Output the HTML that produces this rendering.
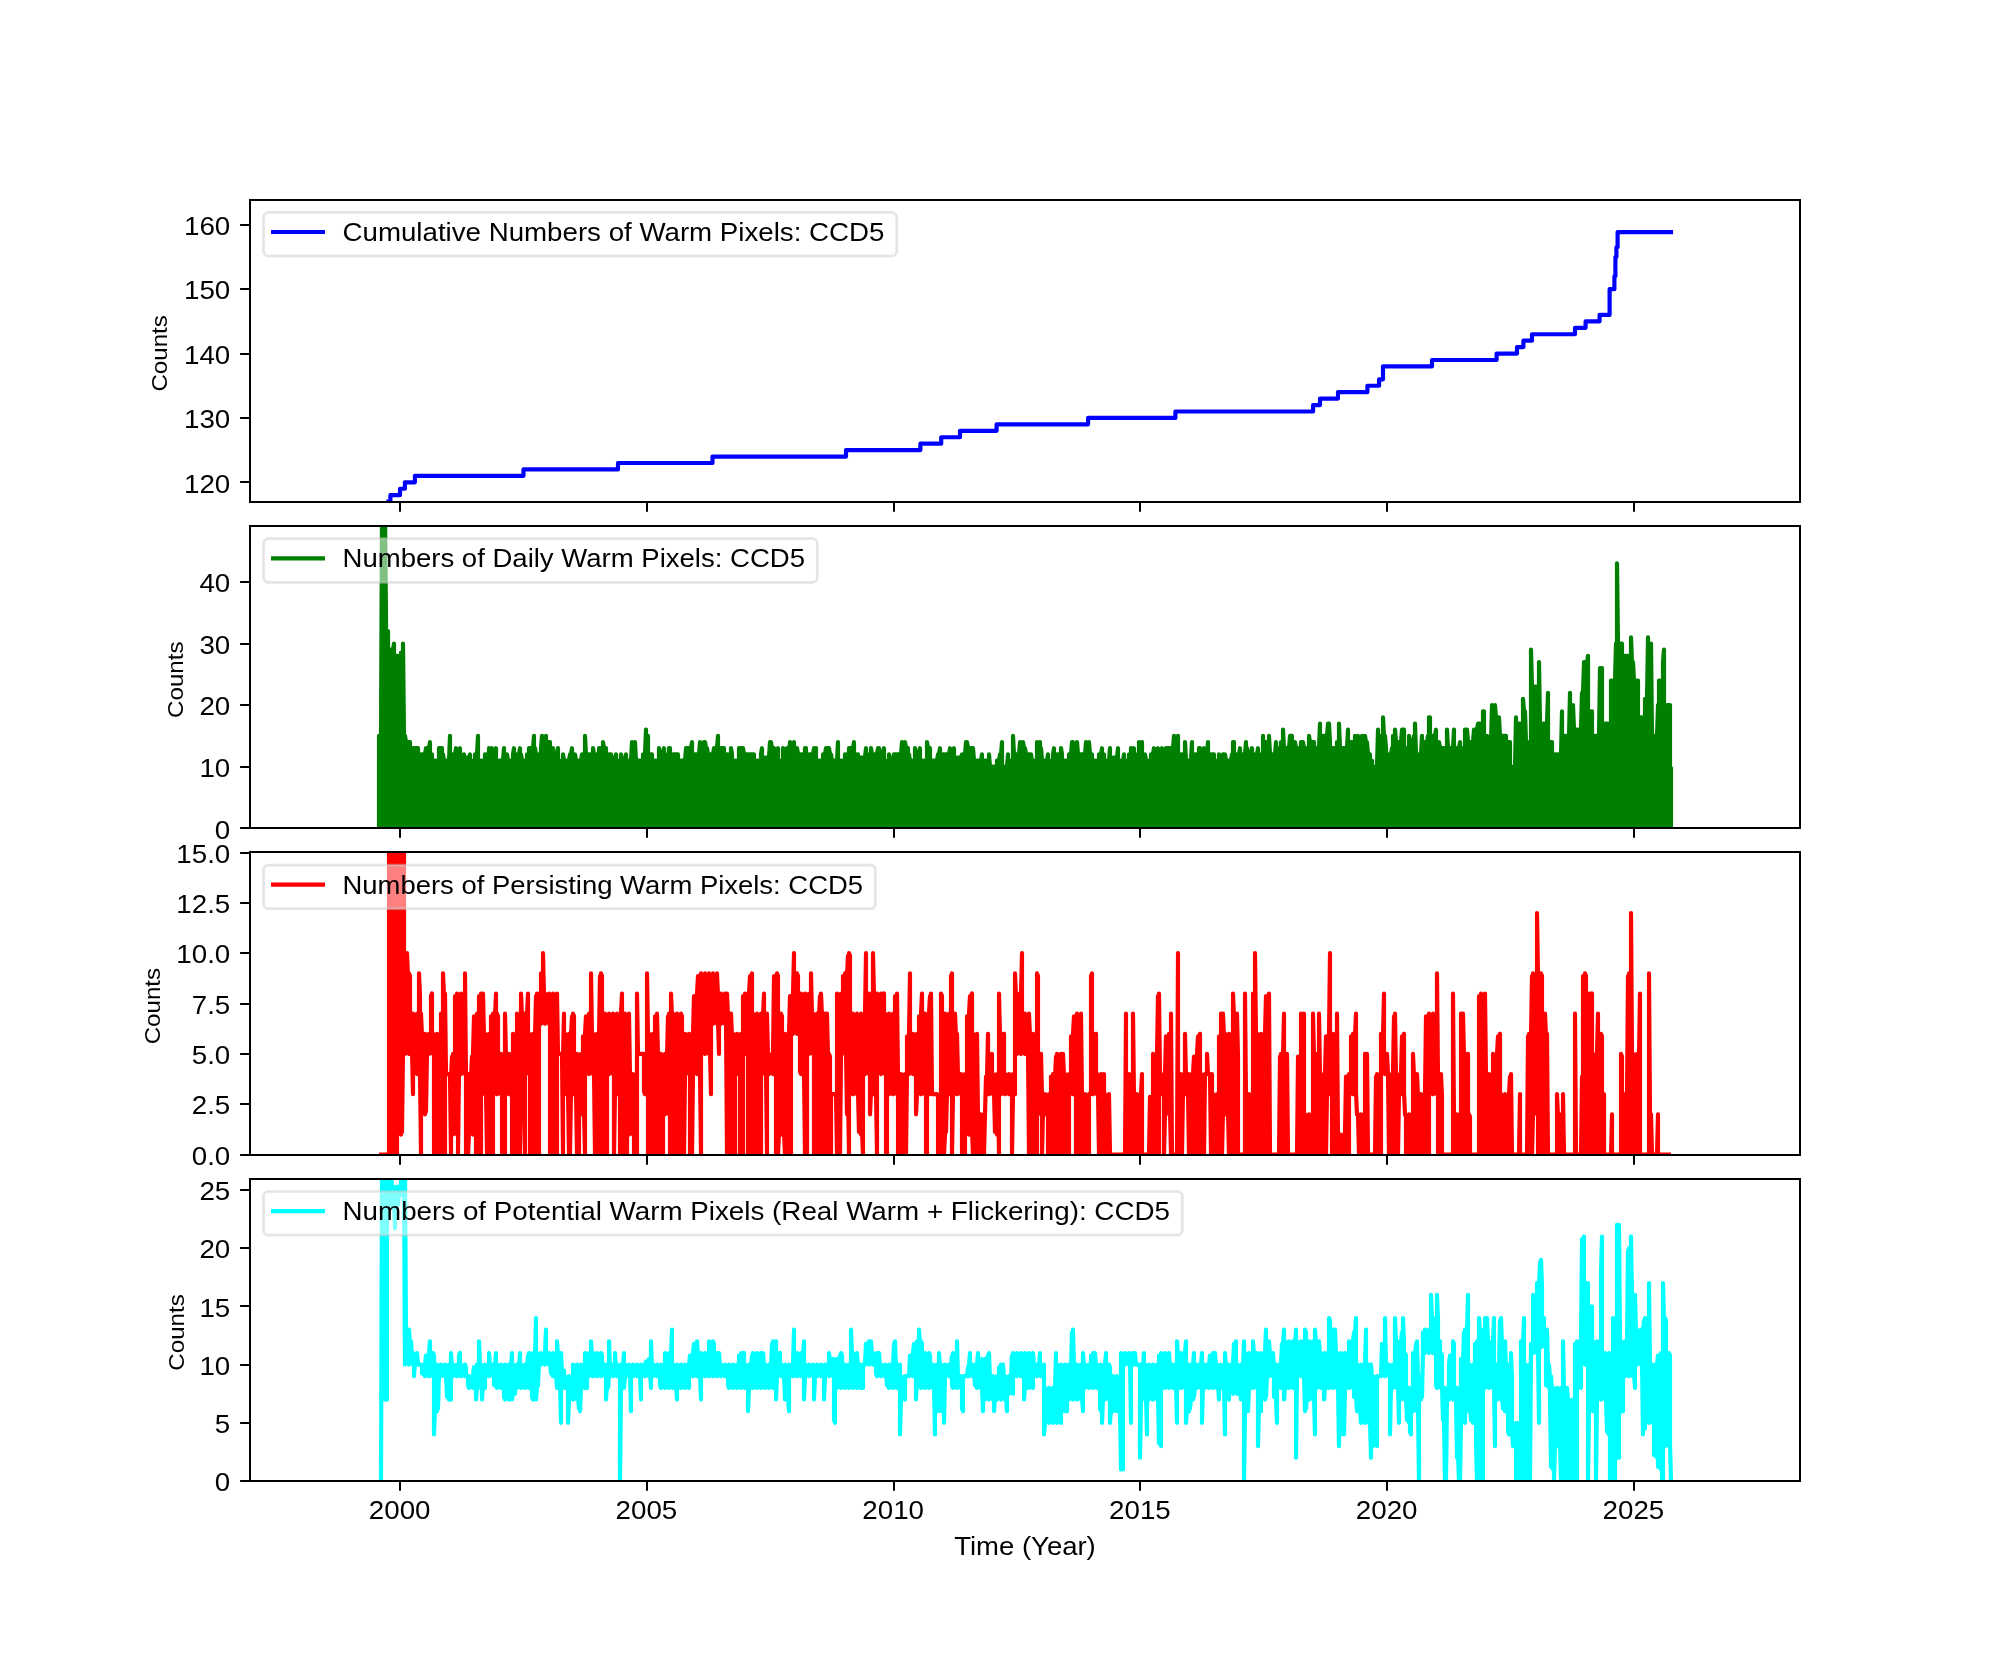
<!DOCTYPE html>
<html><head><meta charset="utf-8"><title>Warm pixels CCD5</title>
<style>
html,body{margin:0;padding:0;background:#fff}
svg{display:block;will-change:transform}
text{font-family:"Liberation Sans",sans-serif;fill:#000}
</style></head><body>
<svg width="2000" height="1664" viewBox="0 0 2000 1664">
<rect width="2000" height="1664" fill="#fff"/>
<defs>
<clipPath id="c0"><rect x="250" y="200" width="1550" height="302"/></clipPath>
<clipPath id="c1"><rect x="250" y="526" width="1550" height="302"/></clipPath>
<clipPath id="c2"><rect x="250" y="852" width="1550" height="303"/></clipPath>
<clipPath id="c3"><rect x="250" y="1179" width="1550" height="302"/></clipPath>
</defs>
<g clip-path="url(#c0)"><path d="M388.5 501.61H390.4V495.18H400.0V488.74H404.9V482.30H414.9V475.86H523.5V469.43H618.0V462.99H712.5V456.55H846.0V450.11H920.4V443.68H941.2V437.24H960.0V430.80H996.6V424.36H1088.1V417.93H1175.4V411.49H1313.1V405.05H1320.0V398.61H1338.0V392.18H1367.4V385.74H1379.1V379.30H1383.0V366.43H1432.0V359.99H1496.6V353.55H1517.0V347.11H1523.4V340.68H1532.0V334.24H1575.0V327.80H1585.6V321.36H1599.6V314.93H1609.6V289.18H1614.4V276.30H1615.4V256.99H1616.4V247.33H1617.6V232.07H1671" fill="none" stroke="#0000ff" stroke-width="4.17" stroke-linejoin="round" stroke-linecap="square"/></g>
<rect x="263.5" y="212.4" width="633.26" height="43.6" rx="5" ry="5" fill="#fff" fill-opacity="0.5" stroke="#ccc" stroke-opacity="0.5" stroke-width="2.7"/>
<path d="M271 232 H325" stroke="#0000ff" stroke-width="4.17" fill="none"/>
<text x="342.5" y="241" font-size="25.6" text-anchor="start" textLength="541.96" lengthAdjust="spacingAndGlyphs">Cumulative Numbers of Warm Pixels: CCD5</text>
<rect x="250" y="200" width="1550" height="302" fill="none" stroke="#000" stroke-width="2"/>
<text x="230.3" y="492.5" font-size="25" text-anchor="end" textLength="46.29" lengthAdjust="spacingAndGlyphs">120</text>
<text x="230.3" y="428.12" font-size="25" text-anchor="end" textLength="46.29" lengthAdjust="spacingAndGlyphs">130</text>
<text x="230.3" y="363.75" font-size="25" text-anchor="end" textLength="46.29" lengthAdjust="spacingAndGlyphs">140</text>
<text x="230.3" y="299.38" font-size="25" text-anchor="end" textLength="46.29" lengthAdjust="spacingAndGlyphs">150</text>
<text x="230.3" y="235" font-size="25" text-anchor="end" textLength="46.29" lengthAdjust="spacingAndGlyphs">160</text>
<path d="M400 502 v9.8M647 502 v9.8M894 502 v9.8M1140 502 v9.8M1387 502 v9.8M1634 502 v9.8M250 482 h-9.9M250 418 h-9.9M250 354 h-9.9M250 289 h-9.9M250 225 h-9.9" stroke="#000" stroke-width="2" fill="none"/>
<text x="166.8" y="391.6" font-size="22.43" text-anchor="start" textLength="76.45" lengthAdjust="spacingAndGlyphs" transform="rotate(-90 166.8 391.6)">Counts</text>
<g clip-path="url(#c1)"><path d="M379.0 828.3V735.9L380.0 735.9V828.3L381.0 828.3V735.9L382.0 508.0V828.3L383.0 828.3V508.0L384.0 508.0V828.3L385.0 828.3V508.0L386.0 618.9V828.3L387.0 828.3V631.2L388.0 631.2V828.3L389.0 828.3V649.7L390.0 649.7V828.3L391.0 828.3V649.7L392.0 649.7V828.3L393.0 828.3V649.7L394.0 643.5V828.3L395.0 828.3V655.8L396.0 655.8V828.3L397.0 828.3V655.8L398.0 655.8V828.3L399.0 828.3V655.8L400.0 655.8V828.3L401.0 828.3V652.7L402.0 652.7V828.3L403.0 828.3V643.5L404.0 735.9V828.3L405.0 828.3V735.9L406.0 742.1V828.3L407.0 828.3V742.1L408.0 742.1V828.3L409.0 828.3V742.1L410.0 742.1V828.3L411.0 828.3V748.2L412.0 748.2V828.3L413.0 828.3V748.2L414.0 748.2V828.3L415.0 828.3V748.2L416.0 748.2V828.3L417.0 828.3V748.2L418.0 748.2V828.3L419.0 828.3V754.4L420.0 754.4V828.3L421.0 828.3V754.4L422.0 754.4V828.3L423.0 828.3V754.4L424.0 754.4V828.3L425.0 828.3V754.4L426.0 748.2V828.3L427.0 828.3V748.2L428.0 748.2V828.3L429.0 828.3V748.2L430.0 742.1V828.3L431.0 828.3V754.4L432.0 754.4V828.3L433.0 828.3V760.5L434.0 760.5V828.3L435.0 828.3V760.5L436.0 760.5V828.3L437.0 828.3V760.5L438.0 760.5V828.3L439.0 828.3V748.2L440.0 748.2V828.3L441.0 828.3V748.2L442.0 748.2V828.3L443.0 828.3V754.4L444.0 760.5V828.3L445.0 828.3V760.5L446.0 760.5V828.3L447.0 828.3V760.5L448.0 760.5V828.3L449.0 828.3V760.5L450.0 735.9V828.3L451.0 828.3V754.4L452.0 754.4V828.3L453.0 828.3V754.4L454.0 754.4V828.3L455.0 828.3V754.4L456.0 748.2V828.3L457.0 828.3V754.4L458.0 754.4V828.3L459.0 828.3V754.4L460.0 748.2V828.3L461.0 828.3V760.5L462.0 760.5V828.3L463.0 828.3V760.5L464.0 754.4V828.3L465.0 828.3V760.5L466.0 757.5V828.3L467.0 828.3V757.5L468.0 757.5V828.3L469.0 828.3V757.5L470.0 754.4V828.3L471.0 828.3V760.5L472.0 760.5V828.3L473.0 828.3V760.5L474.0 760.5V828.3L475.0 828.3V754.4L476.0 754.4V828.3L477.0 828.3V754.4L478.0 735.9V828.3L479.0 828.3V760.5L480.0 760.5V828.3L481.0 828.3V760.5L482.0 760.5V828.3L483.0 828.3V760.5L484.0 760.5V828.3L485.0 828.3V754.4L486.0 754.4V828.3L487.0 828.3V754.4L488.0 754.4V828.3L489.0 828.3V748.2L490.0 754.4V828.3L491.0 828.3V754.4L492.0 748.2V828.3L493.0 828.3V754.4L494.0 754.4V828.3L495.0 828.3V754.4L496.0 748.2V828.3L497.0 828.3V760.5L498.0 760.5V828.3L499.0 828.3V760.5L500.0 760.5V828.3L501.0 828.3V760.5L502.0 760.5V828.3L503.0 828.3V760.5L504.0 748.2V828.3L505.0 828.3V754.4L506.0 754.4V828.3L507.0 828.3V754.4L508.0 760.5V828.3L509.0 828.3V760.5L510.0 760.5V828.3L511.0 828.3V760.5L512.0 760.5V828.3L513.0 828.3V754.4L514.0 748.2V828.3L515.0 828.3V754.4L516.0 754.4V828.3L517.0 828.3V754.4L518.0 754.4V828.3L519.0 828.3V754.4L520.0 748.2V828.3L521.0 828.3V754.4L522.0 760.5V828.3L523.0 828.3V760.5L524.0 760.5V828.3L525.0 828.3V760.5L526.0 760.5V828.3L527.0 828.3V754.4L528.0 754.4V828.3L529.0 828.3V748.2L530.0 748.2V828.3L531.0 828.3V748.2L532.0 748.2V828.3L533.0 828.3V748.2L534.0 735.9V828.3L535.0 828.3V748.2L536.0 754.4V828.3L537.0 828.3V754.4L538.0 754.4V828.3L539.0 828.3V754.4L540.0 754.4V828.3L541.0 828.3V748.2L542.0 735.9V828.3L543.0 828.3V748.2L544.0 742.1V828.3L545.0 828.3V742.1L546.0 735.9V828.3L547.0 828.3V742.1L548.0 742.1V828.3L549.0 828.3V742.1L550.0 742.1V828.3L551.0 828.3V748.2L552.0 748.2V828.3L553.0 828.3V748.2L554.0 754.4V828.3L555.0 828.3V754.4L556.0 754.4V828.3L557.0 828.3V760.5L558.0 748.2V828.3L559.0 828.3V760.5L560.0 760.5V828.3L561.0 828.3V760.5L562.0 760.5V828.3L563.0 828.3V754.4L564.0 760.5V828.3L565.0 828.3V760.5L566.0 760.5V828.3L567.0 828.3V760.5L568.0 760.5V828.3L569.0 828.3V760.5L570.0 754.4V828.3L571.0 828.3V754.4L572.0 748.2V828.3L573.0 828.3V754.4L574.0 754.4V828.3L575.0 828.3V754.4L576.0 760.5V828.3L577.0 828.3V760.5L578.0 760.5V828.3L579.0 828.3V760.5L580.0 760.5V828.3L581.0 828.3V760.5L582.0 754.4V828.3L583.0 828.3V754.4L584.0 754.4V828.3L585.0 828.3V735.9L586.0 754.4V828.3L587.0 828.3V754.4L588.0 754.4V828.3L589.0 828.3V754.4L590.0 754.4V828.3L591.0 828.3V754.4L592.0 754.4V828.3L593.0 828.3V748.2L594.0 754.4V828.3L595.0 828.3V754.4L596.0 754.4V828.3L597.0 828.3V754.4L598.0 754.4V828.3L599.0 828.3V748.2L600.0 748.2V828.3L601.0 828.3V748.2L602.0 748.2V828.3L603.0 828.3V742.1L604.0 748.2V828.3L605.0 828.3V748.2L606.0 748.2V828.3L607.0 828.3V754.4L608.0 754.4V828.3L609.0 828.3V754.4L610.0 754.4V828.3L611.0 828.3V754.4L612.0 760.5V828.3L613.0 828.3V760.5L614.0 760.5V828.3L615.0 828.3V760.5L616.0 754.4V828.3L617.0 828.3V760.5L618.0 760.5V828.3L619.0 828.3V760.5L620.0 760.5V828.3L621.0 828.3V754.4L622.0 760.5V828.3L623.0 828.3V760.5L624.0 760.5V828.3L625.0 828.3V760.5L626.0 754.4V828.3L627.0 828.3V760.5L628.0 760.5V828.3L629.0 828.3V760.5L630.0 760.5V828.3L631.0 828.3V760.5L632.0 742.1V828.3L633.0 828.3V760.5L634.0 748.2V828.3L635.0 828.3V742.1L636.0 760.5V828.3L637.0 828.3V760.5L638.0 760.5V828.3L639.0 828.3V760.5L640.0 760.5V828.3L641.0 828.3V760.5L642.0 760.5V828.3L643.0 828.3V754.4L644.0 754.4V828.3L645.0 828.3V754.4L646.0 729.7V828.3L647.0 828.3V735.9L648.0 735.9V828.3L649.0 828.3V754.4L650.0 754.4V828.3L651.0 828.3V754.4L652.0 754.4V828.3L653.0 828.3V760.5L654.0 760.5V828.3L655.0 828.3V760.5L656.0 760.5V828.3L657.0 828.3V760.5L658.0 760.5V828.3L659.0 828.3V748.2L660.0 754.4V828.3L661.0 828.3V754.4L662.0 754.4V828.3L663.0 828.3V754.4L664.0 748.2V828.3L665.0 828.3V754.4L666.0 754.4V828.3L667.0 828.3V754.4L668.0 754.4V828.3L669.0 828.3V748.2L670.0 748.2V828.3L671.0 828.3V754.4L672.0 754.4V828.3L673.0 828.3V754.4L674.0 754.4V828.3L675.0 828.3V754.4L676.0 754.4V828.3L677.0 828.3V754.4L678.0 754.4V828.3L679.0 828.3V760.5L680.0 760.5V828.3L681.0 828.3V760.5L682.0 760.5V828.3L683.0 828.3V760.5L684.0 760.5V828.3L685.0 828.3V760.5L686.0 748.2V828.3L687.0 828.3V748.2L688.0 748.2V828.3L689.0 828.3V748.2L690.0 748.2V828.3L691.0 828.3V748.2L692.0 742.1V828.3L693.0 828.3V754.4L694.0 754.4V828.3L695.0 828.3V754.4L696.0 754.4V828.3L697.0 828.3V754.4L698.0 754.4V828.3L699.0 828.3V754.4L700.0 742.1V828.3L701.0 828.3V754.4L702.0 748.2V828.3L703.0 828.3V748.2L704.0 742.1V828.3L705.0 828.3V742.1L706.0 748.2V828.3L707.0 828.3V748.2L708.0 754.4V828.3L709.0 828.3V754.4L710.0 754.4V828.3L711.0 828.3V754.4L712.0 754.4V828.3L713.0 828.3V754.4L714.0 748.2V828.3L715.0 828.3V748.2L716.0 748.2V828.3L717.0 828.3V748.2L718.0 735.9V828.3L719.0 828.3V748.2L720.0 748.2V828.3L721.0 828.3V748.2L722.0 748.2V828.3L723.0 828.3V748.2L724.0 748.2V828.3L725.0 828.3V754.4L726.0 754.4V828.3L727.0 828.3V754.4L728.0 754.4V828.3L729.0 828.3V754.4L730.0 754.4V828.3L731.0 828.3V748.2L732.0 754.4V828.3L733.0 828.3V760.5L734.0 760.5V828.3L735.0 828.3V760.5L736.0 760.5V828.3L737.0 828.3V760.5L738.0 760.5V828.3L739.0 828.3V748.2L740.0 748.2V828.3L741.0 828.3V748.2L742.0 748.2V828.3L743.0 828.3V748.2L744.0 754.4V828.3L745.0 828.3V754.4L746.0 754.4V828.3L747.0 828.3V754.4L748.0 754.4V828.3L749.0 828.3V754.4L750.0 754.4V828.3L751.0 828.3V754.4L752.0 754.4V828.3L753.0 828.3V754.4L754.0 754.4V828.3L755.0 828.3V760.5L756.0 760.5V828.3L757.0 828.3V760.5L758.0 760.5V828.3L759.0 828.3V760.5L760.0 760.5V828.3L761.0 828.3V754.4L762.0 748.2V828.3L763.0 828.3V757.5L764.0 757.5V828.3L765.0 828.3V757.5L766.0 757.5V828.3L767.0 828.3V757.5L768.0 757.5V828.3L769.0 828.3V757.5L770.0 742.1V828.3L771.0 828.3V742.1L772.0 748.2V828.3L773.0 828.3V748.2L774.0 748.2V828.3L775.0 828.3V754.4L776.0 754.4V828.3L777.0 828.3V754.4L778.0 748.2V828.3L779.0 828.3V760.5L780.0 760.5V828.3L781.0 828.3V760.5L782.0 760.5V828.3L783.0 828.3V748.2L784.0 760.5V828.3L785.0 828.3V754.4L786.0 757.5V828.3L787.0 828.3V748.2L788.0 757.5V828.3L789.0 828.3V757.5L790.0 742.1V828.3L791.0 828.3V757.5L792.0 748.2V828.3L793.0 828.3V748.2L794.0 742.1V828.3L795.0 828.3V748.2L796.0 748.2V828.3L797.0 828.3V748.2L798.0 754.4V828.3L799.0 828.3V754.4L800.0 754.4V828.3L801.0 828.3V754.4L802.0 754.4V828.3L803.0 828.3V754.4L804.0 754.4V828.3L805.0 828.3V748.2L806.0 748.2V828.3L807.0 828.3V754.4L808.0 754.4V828.3L809.0 828.3V754.4L810.0 754.4V828.3L811.0 828.3V754.4L812.0 754.4V828.3L813.0 828.3V754.4L814.0 748.2V828.3L815.0 828.3V760.5L816.0 748.2V828.3L817.0 828.3V760.5L818.0 760.5V828.3L819.0 828.3V760.5L820.0 760.5V828.3L821.0 828.3V760.5L822.0 760.5V828.3L823.0 828.3V754.4L824.0 754.4V828.3L825.0 828.3V754.4L826.0 748.2V828.3L827.0 828.3V748.2L828.0 748.2V828.3L829.0 828.3V748.2L830.0 754.4V828.3L831.0 828.3V754.4L832.0 760.5V828.3L833.0 828.3V760.5L834.0 760.5V828.3L835.0 828.3V760.5L836.0 760.5V828.3L837.0 828.3V760.5L838.0 742.1V828.3L839.0 828.3V760.5L840.0 760.5V828.3L841.0 828.3V760.5L842.0 760.5V828.3L843.0 828.3V760.5L844.0 760.5V828.3L845.0 828.3V754.4L846.0 754.4V828.3L847.0 828.3V754.4L848.0 754.4V828.3L849.0 828.3V748.2L850.0 748.2V828.3L851.0 828.3V748.2L852.0 748.2V828.3L853.0 828.3V748.2L854.0 742.1V828.3L855.0 828.3V754.4L856.0 754.4V828.3L857.0 828.3V754.4L858.0 754.4V828.3L859.0 828.3V757.5L860.0 757.5V828.3L861.0 828.3V757.5L862.0 757.5V828.3L863.0 828.3V757.5L864.0 757.5V828.3L865.0 828.3V757.5L866.0 748.2V828.3L867.0 828.3V754.4L868.0 754.4V828.3L869.0 828.3V754.4L870.0 754.4V828.3L871.0 828.3V748.2L872.0 754.4V828.3L873.0 828.3V754.4L874.0 754.4V828.3L875.0 828.3V754.4L876.0 754.4V828.3L877.0 828.3V754.4L878.0 748.2V828.3L879.0 828.3V748.2L880.0 754.4V828.3L881.0 828.3V754.4L882.0 754.4V828.3L883.0 828.3V754.4L884.0 748.2V828.3L885.0 828.3V760.5L886.0 760.5V828.3L887.0 828.3V760.5L888.0 760.5V828.3L889.0 828.3V754.4L890.0 760.5V828.3L891.0 828.3V760.5L892.0 760.5V828.3L893.0 828.3V760.5L894.0 754.4V828.3L895.0 828.3V754.4L896.0 754.4V828.3L897.0 828.3V754.4L898.0 754.4V828.3L899.0 828.3V754.4L900.0 754.4V828.3L901.0 828.3V754.4L902.0 742.1V828.3L903.0 828.3V754.4L904.0 748.2V828.3L905.0 828.3V742.1L906.0 748.2V828.3L907.0 828.3V748.2L908.0 748.2V828.3L909.0 828.3V754.4L910.0 760.5V828.3L911.0 828.3V760.5L912.0 760.5V828.3L913.0 828.3V760.5L914.0 760.5V828.3L915.0 828.3V748.2L916.0 754.4V828.3L917.0 828.3V754.4L918.0 754.4V828.3L919.0 828.3V754.4L920.0 748.2V828.3L921.0 828.3V760.5L922.0 760.5V828.3L923.0 828.3V760.5L924.0 760.5V828.3L925.0 828.3V760.5L926.0 760.5V828.3L927.0 828.3V742.1L928.0 748.2V828.3L929.0 828.3V748.2L930.0 748.2V828.3L931.0 828.3V760.5L932.0 760.5V828.3L933.0 828.3V760.5L934.0 760.5V828.3L935.0 828.3V760.5L936.0 760.5V828.3L937.0 828.3V760.5L938.0 754.4V828.3L939.0 828.3V754.4L940.0 748.2V828.3L941.0 828.3V754.4L942.0 754.4V828.3L943.0 828.3V754.4L944.0 754.4V828.3L945.0 828.3V754.4L946.0 754.4V828.3L947.0 828.3V754.4L948.0 754.4V828.3L949.0 828.3V754.4L950.0 748.2V828.3L951.0 828.3V754.4L952.0 754.4V828.3L953.0 828.3V754.4L954.0 748.2V828.3L955.0 828.3V757.5L956.0 757.5V828.3L957.0 828.3V757.5L958.0 757.5V828.3L959.0 828.3V757.5L960.0 757.5V828.3L961.0 828.3V757.5L962.0 754.4V828.3L963.0 828.3V754.4L964.0 754.4V828.3L965.0 828.3V754.4L966.0 742.1V828.3L967.0 828.3V742.1L968.0 748.2V828.3L969.0 828.3V748.2L970.0 748.2V828.3L971.0 828.3V748.2L972.0 748.2V828.3L973.0 828.3V748.2L974.0 760.5V828.3L975.0 828.3V760.5L976.0 760.5V828.3L977.0 828.3V760.5L978.0 760.5V828.3L979.0 828.3V760.5L980.0 760.5V828.3L981.0 828.3V760.5L982.0 754.4V828.3L983.0 828.3V760.5L984.0 760.5V828.3L985.0 828.3V760.5L986.0 760.5V828.3L987.0 828.3V760.5L988.0 760.5V828.3L989.0 828.3V754.4L990.0 766.7V828.3L991.0 828.3V766.7L992.0 766.7V828.3L993.0 828.3V766.7L994.0 766.7V828.3L995.0 828.3V766.7L996.0 766.7V828.3L997.0 828.3V760.5L998.0 760.5V828.3L999.0 828.3V760.5L1000.0 754.4V828.3L1001.0 828.3V754.4L1002.0 742.1V828.3L1003.0 828.3V766.7L1004.0 766.7V828.3L1005.0 828.3V766.7L1006.0 766.7V828.3L1007.0 828.3V766.7L1008.0 754.4V828.3L1009.0 828.3V766.7L1010.0 760.5V828.3L1011.0 828.3V760.5L1012.0 760.5V828.3L1013.0 828.3V735.9L1014.0 754.4V828.3L1015.0 828.3V754.4L1016.0 754.4V828.3L1017.0 828.3V754.4L1018.0 754.4V828.3L1019.0 828.3V754.4L1020.0 742.1V828.3L1021.0 828.3V754.4L1022.0 748.2V828.3L1023.0 828.3V742.1L1024.0 748.2V828.3L1025.0 828.3V748.2L1026.0 754.4V828.3L1027.0 828.3V754.4L1028.0 754.4V828.3L1029.0 828.3V754.4L1030.0 754.4V828.3L1031.0 828.3V754.4L1032.0 760.5V828.3L1033.0 828.3V760.5L1034.0 760.5V828.3L1035.0 828.3V760.5L1036.0 760.5V828.3L1037.0 828.3V742.1L1038.0 754.4V828.3L1039.0 828.3V748.2L1040.0 742.1V828.3L1041.0 828.3V748.2L1042.0 760.5V828.3L1043.0 828.3V760.5L1044.0 760.5V828.3L1045.0 828.3V760.5L1046.0 760.5V828.3L1047.0 828.3V760.5L1048.0 754.4V828.3L1049.0 828.3V760.5L1050.0 760.5V828.3L1051.0 828.3V760.5L1052.0 760.5V828.3L1053.0 828.3V754.4L1054.0 748.2V828.3L1055.0 828.3V754.4L1056.0 754.4V828.3L1057.0 828.3V754.4L1058.0 754.4V828.3L1059.0 828.3V754.4L1060.0 754.4V828.3L1061.0 828.3V748.2L1062.0 754.4V828.3L1063.0 828.3V760.5L1064.0 760.5V828.3L1065.0 828.3V760.5L1066.0 760.5V828.3L1067.0 828.3V760.5L1068.0 760.5V828.3L1069.0 828.3V754.4L1070.0 754.4V828.3L1071.0 828.3V754.4L1072.0 742.1V828.3L1073.0 828.3V742.1L1074.0 748.2V828.3L1075.0 828.3V748.2L1076.0 748.2V828.3L1077.0 828.3V742.1L1078.0 754.4V828.3L1079.0 828.3V754.4L1080.0 754.4V828.3L1081.0 828.3V754.4L1082.0 754.4V828.3L1083.0 828.3V754.4L1084.0 754.4V828.3L1085.0 828.3V754.4L1086.0 742.1V828.3L1087.0 828.3V754.4L1088.0 754.4V828.3L1089.0 828.3V742.1L1090.0 754.4V828.3L1091.0 828.3V754.4L1092.0 754.4V828.3L1093.0 828.3V760.5L1094.0 760.5V828.3L1095.0 828.3V760.5L1096.0 760.5V828.3L1097.0 828.3V760.5L1098.0 760.5V828.3L1099.0 828.3V754.4L1100.0 754.4V828.3L1101.0 828.3V754.4L1102.0 748.2V828.3L1103.0 828.3V754.4L1104.0 754.4V828.3L1105.0 828.3V760.5L1106.0 760.5V828.3L1107.0 828.3V760.5L1108.0 760.5V828.3L1109.0 828.3V760.5L1110.0 748.2V828.3L1111.0 828.3V757.5L1112.0 757.5V828.3L1113.0 828.3V757.5L1114.0 757.5V828.3L1115.0 828.3V757.5L1116.0 757.5V828.3L1117.0 828.3V757.5L1118.0 748.2V828.3L1119.0 828.3V760.5L1120.0 760.5V828.3L1121.0 828.3V760.5L1122.0 760.5V828.3L1123.0 828.3V760.5L1124.0 754.4V828.3L1125.0 828.3V760.5L1126.0 760.5V828.3L1127.0 828.3V760.5L1128.0 760.5V828.3L1129.0 828.3V754.4L1130.0 754.4V828.3L1131.0 828.3V748.2L1132.0 754.4V828.3L1133.0 828.3V754.4L1134.0 748.2V828.3L1135.0 828.3V754.4L1136.0 754.4V828.3L1137.0 828.3V754.4L1138.0 754.4V828.3L1139.0 828.3V742.1L1140.0 754.4V828.3L1141.0 828.3V754.4L1142.0 742.1V828.3L1143.0 828.3V754.4L1144.0 754.4V828.3L1145.0 828.3V754.4L1146.0 760.5V828.3L1147.0 828.3V760.5L1148.0 760.5V828.3L1149.0 828.3V760.5L1150.0 760.5V828.3L1151.0 828.3V754.4L1152.0 754.4V828.3L1153.0 828.3V754.4L1154.0 748.2V828.3L1155.0 828.3V754.4L1156.0 754.4V828.3L1157.0 828.3V754.4L1158.0 748.2V828.3L1159.0 828.3V754.4L1160.0 754.4V828.3L1161.0 828.3V754.4L1162.0 748.2V828.3L1163.0 828.3V754.4L1164.0 754.4V828.3L1165.0 828.3V754.4L1166.0 748.2V828.3L1167.0 828.3V748.2L1168.0 748.2V828.3L1169.0 828.3V748.2L1170.0 748.2V828.3L1171.0 828.3V748.2L1172.0 748.2V828.3L1173.0 828.3V748.2L1174.0 735.9V828.3L1175.0 828.3V742.1L1176.0 742.1V828.3L1177.0 828.3V754.4L1178.0 735.9V828.3L1179.0 828.3V754.4L1180.0 754.4V828.3L1181.0 828.3V754.4L1182.0 754.4V828.3L1183.0 828.3V754.4L1184.0 754.4V828.3L1185.0 828.3V742.1L1186.0 760.5V828.3L1187.0 828.3V760.5L1188.0 760.5V828.3L1189.0 828.3V760.5L1190.0 760.5V828.3L1191.0 828.3V760.5L1192.0 742.1V828.3L1193.0 828.3V754.4L1194.0 754.4V828.3L1195.0 828.3V754.4L1196.0 754.4V828.3L1197.0 828.3V754.4L1198.0 754.4V828.3L1199.0 828.3V748.2L1200.0 748.2V828.3L1201.0 828.3V754.4L1202.0 754.4V828.3L1203.0 828.3V754.4L1204.0 748.2V828.3L1205.0 828.3V754.4L1206.0 754.4V828.3L1207.0 828.3V754.4L1208.0 742.1V828.3L1209.0 828.3V754.4L1210.0 754.4V828.3L1211.0 828.3V754.4L1212.0 754.4V828.3L1213.0 828.3V754.4L1214.0 754.4V828.3L1215.0 828.3V760.5L1216.0 760.5V828.3L1217.0 828.3V760.5L1218.0 760.5V828.3L1219.0 828.3V754.4L1220.0 760.5V828.3L1221.0 828.3V760.5L1222.0 760.5V828.3L1223.0 828.3V754.4L1224.0 754.4V828.3L1225.0 828.3V754.4L1226.0 760.5V828.3L1227.0 828.3V760.5L1228.0 760.5V828.3L1229.0 828.3V760.5L1230.0 760.5V828.3L1231.0 828.3V760.5L1232.0 754.4V828.3L1233.0 828.3V742.1L1234.0 742.1V828.3L1235.0 828.3V754.4L1236.0 754.4V828.3L1237.0 828.3V754.4L1238.0 754.4V828.3L1239.0 828.3V754.4L1240.0 748.2V828.3L1241.0 828.3V754.4L1242.0 754.4V828.3L1243.0 828.3V754.4L1244.0 754.4V828.3L1245.0 828.3V754.4L1246.0 742.1V828.3L1247.0 828.3V748.2L1248.0 754.4V828.3L1249.0 828.3V754.4L1250.0 754.4V828.3L1251.0 828.3V754.4L1252.0 748.2V828.3L1253.0 828.3V754.4L1254.0 754.4V828.3L1255.0 828.3V754.4L1256.0 754.4V828.3L1257.0 828.3V754.4L1258.0 748.2V828.3L1259.0 828.3V754.4L1260.0 754.4V828.3L1261.0 828.3V754.4L1262.0 754.4V828.3L1263.0 828.3V735.9L1264.0 754.4V828.3L1265.0 828.3V742.1L1266.0 742.1V828.3L1267.0 828.3V742.1L1268.0 742.1V828.3L1269.0 828.3V735.9L1270.0 754.4V828.3L1271.0 828.3V754.4L1272.0 754.4V828.3L1273.0 828.3V754.4L1274.0 754.4V828.3L1275.0 828.3V754.4L1276.0 742.1V828.3L1277.0 828.3V754.4L1278.0 748.2V828.3L1279.0 828.3V748.2L1280.0 748.2V828.3L1281.0 828.3V742.1L1282.0 742.1V828.3L1283.0 828.3V729.7L1284.0 748.2V828.3L1285.0 828.3V748.2L1286.0 748.2V828.3L1287.0 828.3V748.2L1288.0 748.2V828.3L1289.0 828.3V748.2L1290.0 735.9V828.3L1291.0 828.3V735.9L1292.0 735.9V828.3L1293.0 828.3V742.1L1294.0 742.1V828.3L1295.0 828.3V742.1L1296.0 748.2V828.3L1297.0 828.3V748.2L1298.0 748.2V828.3L1299.0 828.3V748.2L1300.0 748.2V828.3L1301.0 828.3V742.1L1302.0 742.1V828.3L1303.0 828.3V742.1L1304.0 748.2V828.3L1305.0 828.3V748.2L1306.0 748.2V828.3L1307.0 828.3V748.2L1308.0 748.2V828.3L1309.0 828.3V735.9L1310.0 742.1V828.3L1311.0 828.3V742.1L1312.0 742.1V828.3L1313.0 828.3V742.1L1314.0 742.1V828.3L1315.0 828.3V748.2L1316.0 748.2V828.3L1317.0 828.3V748.2L1318.0 748.2V828.3L1319.0 828.3V748.2L1320.0 723.6V828.3L1321.0 828.3V735.9L1322.0 735.9V828.3L1323.0 828.3V735.9L1324.0 735.9V828.3L1325.0 828.3V735.9L1326.0 735.9V828.3L1327.0 828.3V735.9L1328.0 723.6V828.3L1329.0 828.3V723.6L1330.0 742.1V828.3L1331.0 828.3V748.2L1332.0 748.2V828.3L1333.0 828.3V748.2L1334.0 748.2V828.3L1335.0 828.3V748.2L1336.0 748.2V828.3L1337.0 828.3V742.1L1338.0 742.1V828.3L1339.0 828.3V723.6L1340.0 748.2V828.3L1341.0 828.3V748.2L1342.0 748.2V828.3L1343.0 828.3V748.2L1344.0 748.2V828.3L1345.0 828.3V748.2L1346.0 748.2V828.3L1347.0 828.3V748.2L1348.0 729.7V828.3L1349.0 828.3V742.1L1350.0 742.1V828.3L1351.0 828.3V742.1L1352.0 742.1V828.3L1353.0 828.3V742.1L1354.0 742.1V828.3L1355.0 828.3V735.9L1356.0 742.1V828.3L1357.0 828.3V742.1L1358.0 735.9V828.3L1359.0 828.3V748.2L1360.0 748.2V828.3L1361.0 828.3V748.2L1362.0 735.9V828.3L1363.0 828.3V748.2L1364.0 748.2V828.3L1365.0 828.3V735.9L1366.0 742.1V828.3L1367.0 828.3V742.1L1368.0 754.4V828.3L1369.0 828.3V754.4L1370.0 754.4V828.3L1371.0 828.3V760.5L1372.0 760.5V828.3L1373.0 828.3V766.7L1374.0 766.7V828.3L1375.0 828.3V766.7L1376.0 766.7V828.3L1377.0 828.3V766.7L1378.0 729.7V828.3L1379.0 828.3V766.7L1380.0 735.9V828.3L1381.0 828.3V735.9L1382.0 735.9V828.3L1383.0 828.3V717.4L1384.0 735.9V828.3L1385.0 828.3V735.9L1386.0 748.2V828.3L1387.0 828.3V754.4L1388.0 754.4V828.3L1389.0 828.3V754.4L1390.0 754.4V828.3L1391.0 828.3V754.4L1392.0 748.2V828.3L1393.0 828.3V735.9L1394.0 735.9V828.3L1395.0 828.3V729.7L1396.0 742.1V828.3L1397.0 828.3V742.1L1398.0 742.1V828.3L1399.0 828.3V742.1L1400.0 742.1V828.3L1401.0 828.3V742.1L1402.0 729.7V828.3L1403.0 828.3V729.7L1404.0 729.7V828.3L1405.0 828.3V748.2L1406.0 748.2V828.3L1407.0 828.3V748.2L1408.0 748.2V828.3L1409.0 828.3V735.9L1410.0 748.2V828.3L1411.0 828.3V742.1L1412.0 742.1V828.3L1413.0 828.3V742.1L1414.0 735.9V828.3L1415.0 828.3V723.6L1416.0 754.4V828.3L1417.0 828.3V754.4L1418.0 754.4V828.3L1419.0 828.3V754.4L1420.0 754.4V828.3L1421.0 828.3V754.4L1422.0 735.9V828.3L1423.0 828.3V742.1L1424.0 742.1V828.3L1425.0 828.3V742.1L1426.0 742.1V828.3L1427.0 828.3V742.1L1428.0 735.9V828.3L1429.0 828.3V717.4L1430.0 717.4V828.3L1431.0 828.3V735.9L1432.0 735.9V828.3L1433.0 828.3V735.9L1434.0 735.9V828.3L1435.0 828.3V735.9L1436.0 729.7V828.3L1437.0 828.3V742.1L1438.0 742.1V828.3L1439.0 828.3V742.1L1440.0 748.2V828.3L1441.0 828.3V748.2L1442.0 748.2V828.3L1443.0 828.3V748.2L1444.0 748.2V828.3L1445.0 828.3V748.2L1446.0 748.2V828.3L1447.0 828.3V729.7L1448.0 748.2V828.3L1449.0 828.3V748.2L1450.0 748.2V828.3L1451.0 828.3V748.2L1452.0 748.2V828.3L1453.0 828.3V748.2L1454.0 729.7V828.3L1455.0 828.3V748.2L1456.0 748.2V828.3L1457.0 828.3V748.2L1458.0 748.2V828.3L1459.0 828.3V748.2L1460.0 742.1V828.3L1461.0 828.3V748.2L1462.0 748.2V828.3L1463.0 828.3V748.2L1464.0 748.2V828.3L1465.0 828.3V729.7L1466.0 729.7V828.3L1467.0 828.3V729.7L1468.0 742.1V828.3L1469.0 828.3V742.1L1470.0 742.1V828.3L1471.0 828.3V742.1L1472.0 742.1V828.3L1473.0 828.3V742.1L1474.0 729.7V828.3L1475.0 828.3V729.7L1476.0 729.7V828.3L1477.0 828.3V729.7L1478.0 723.6V828.3L1479.0 828.3V723.6L1480.0 723.6V828.3L1481.0 828.3V723.6L1482.0 723.6V828.3L1483.0 828.3V711.3L1484.0 711.3V828.3L1485.0 828.3V735.9L1486.0 735.9V828.3L1487.0 828.3V735.9L1488.0 742.1V828.3L1489.0 828.3V742.1L1490.0 742.1V828.3L1491.0 828.3V742.1L1492.0 705.1V828.3L1493.0 828.3V711.3L1494.0 717.4V828.3L1495.0 828.3V705.1L1496.0 717.4V828.3L1497.0 828.3V717.4L1498.0 717.4V828.3L1499.0 828.3V717.4L1500.0 735.9V828.3L1501.0 828.3V735.9L1502.0 735.9V828.3L1503.0 828.3V735.9L1504.0 735.9V828.3L1505.0 828.3V735.9L1506.0 735.9V828.3L1507.0 828.3V742.1L1508.0 742.1V828.3L1509.0 828.3V742.1L1510.0 742.1V828.3L1511.0 828.3V766.7L1512.0 766.7V828.3L1513.0 828.3V766.7L1514.0 766.7V828.3L1515.0 828.3V766.7L1516.0 717.4V828.3L1517.0 828.3V723.6L1518.0 723.6V828.3L1519.0 828.3V723.6L1520.0 723.6V828.3L1521.0 828.3V723.6L1522.0 723.6V828.3L1523.0 828.3V698.9L1524.0 711.3V828.3L1525.0 828.3V711.3L1526.0 742.1V828.3L1527.0 828.3V742.1L1528.0 742.1V828.3L1529.0 828.3V742.1L1530.0 742.1V828.3L1531.0 828.3V649.7L1532.0 686.6V828.3L1533.0 828.3V686.6L1534.0 686.6V828.3L1535.0 828.3V686.6L1536.0 686.6V828.3L1537.0 828.3V686.6L1538.0 686.6V828.3L1539.0 828.3V662.0L1540.0 723.6V828.3L1541.0 828.3V723.6L1542.0 723.6V828.3L1543.0 828.3V723.6L1544.0 723.6V828.3L1545.0 828.3V723.6L1546.0 723.6V828.3L1547.0 828.3V723.6L1548.0 692.8V828.3L1549.0 828.3V742.1L1550.0 742.1V828.3L1551.0 828.3V742.1L1552.0 742.1V828.3L1553.0 828.3V754.4L1554.0 754.4V828.3L1555.0 828.3V754.4L1556.0 754.4V828.3L1557.0 828.3V754.4L1558.0 754.4V828.3L1559.0 828.3V754.4L1560.0 754.4V828.3L1561.0 828.3V754.4L1562.0 711.3V828.3L1563.0 828.3V735.9L1564.0 735.9V828.3L1565.0 828.3V735.9L1566.0 735.9V828.3L1567.0 828.3V735.9L1568.0 735.9V828.3L1569.0 828.3V735.9L1570.0 692.8V828.3L1571.0 828.3V705.1L1572.0 705.1V828.3L1573.0 828.3V705.1L1574.0 729.7V828.3L1575.0 828.3V729.7L1576.0 729.7V828.3L1577.0 828.3V729.7L1578.0 729.7V828.3L1579.0 828.3V729.7L1580.0 729.7V828.3L1581.0 828.3V729.7L1582.0 692.8V828.3L1583.0 828.3V692.8L1584.0 662.0V828.3L1585.0 828.3V662.0L1586.0 662.0V828.3L1587.0 828.3V662.0L1588.0 655.8V828.3L1589.0 828.3V711.3L1590.0 711.3V828.3L1591.0 828.3V711.3L1592.0 711.3V828.3L1593.0 828.3V735.9L1594.0 735.9V828.3L1595.0 828.3V735.9L1596.0 735.9V828.3L1597.0 828.3V735.9L1598.0 735.9V828.3L1599.0 828.3V735.9L1600.0 668.1V828.3L1601.0 828.3V668.1L1602.0 668.1V828.3L1603.0 828.3V723.6L1604.0 723.6V828.3L1605.0 828.3V723.6L1606.0 723.6V828.3L1607.0 828.3V723.6L1608.0 723.6V828.3L1609.0 828.3V723.6L1610.0 723.6V828.3L1611.0 828.3V680.5L1612.0 680.5V828.3L1613.0 828.3V680.5L1614.0 680.5V828.3L1615.0 828.3V680.5L1616.0 643.5V828.3L1617.0 828.3V563.4L1618.0 643.5V828.3L1619.0 828.3V643.5L1620.0 643.5V828.3L1621.0 828.3V643.5L1622.0 643.5V828.3L1623.0 828.3V655.8L1624.0 655.8V828.3L1625.0 828.3V655.8L1626.0 655.8V828.3L1627.0 828.3V655.8L1628.0 655.8V828.3L1629.0 828.3V655.8L1630.0 655.8V828.3L1631.0 828.3V637.3L1632.0 662.0V828.3L1633.0 828.3V662.0L1634.0 680.5V828.3L1635.0 828.3V680.5L1636.0 680.5V828.3L1637.0 828.3V680.5L1638.0 680.5V828.3L1639.0 828.3V717.4L1640.0 717.4V828.3L1641.0 828.3V717.4L1642.0 717.4V828.3L1643.0 828.3V717.4L1644.0 717.4V828.3L1645.0 828.3V698.9L1646.0 698.9V828.3L1647.0 828.3V698.9L1648.0 637.3V828.3L1649.0 828.3V643.5L1650.0 643.5V828.3L1651.0 828.3V643.5L1652.0 735.9V828.3L1653.0 828.3V735.9L1654.0 735.9V828.3L1655.0 828.3V735.9L1656.0 735.9V828.3L1657.0 828.3V735.9L1658.0 705.1V828.3L1659.0 828.3V680.5L1660.0 680.5V828.3L1661.0 828.3V680.5L1662.0 680.5V828.3L1663.0 828.3V662.0L1664.0 649.7V828.3L1665.0 828.3V705.1L1666.0 705.1V828.3L1667.0 828.3V705.1L1668.0 705.1V828.3L1669.0 828.3V705.1L1670.0 705.1V828.3L1671.0 828.3V766.7" fill="none" stroke="#008000" stroke-width="4.17" stroke-linejoin="round" stroke-linecap="butt"/></g>
<rect x="263.5" y="538.7" width="553.82" height="43.6" rx="5" ry="5" fill="#fff" fill-opacity="0.5" stroke="#ccc" stroke-opacity="0.5" stroke-width="2.7"/>
<path d="M271 558.3 H325" stroke="#008000" stroke-width="4.17" fill="none"/>
<text x="342.5" y="567.3" font-size="25.6" text-anchor="start" textLength="462.52" lengthAdjust="spacingAndGlyphs">Numbers of Daily Warm Pixels: CCD5</text>
<rect x="250" y="526" width="1550" height="302" fill="none" stroke="#000" stroke-width="2"/>
<text x="230.3" y="838.5" font-size="25" text-anchor="end" textLength="15.43" lengthAdjust="spacingAndGlyphs">0</text>
<text x="230.3" y="776.9" font-size="25" text-anchor="end" textLength="30.86" lengthAdjust="spacingAndGlyphs">10</text>
<text x="230.3" y="715.3" font-size="25" text-anchor="end" textLength="30.86" lengthAdjust="spacingAndGlyphs">20</text>
<text x="230.3" y="653.7" font-size="25" text-anchor="end" textLength="30.86" lengthAdjust="spacingAndGlyphs">30</text>
<text x="230.3" y="592.1" font-size="25" text-anchor="end" textLength="30.86" lengthAdjust="spacingAndGlyphs">40</text>
<path d="M400 828 v9.8M647 828 v9.8M894 828 v9.8M1140 828 v9.8M1387 828 v9.8M1634 828 v9.8M250 828 h-9.9M250 767 h-9.9M250 705 h-9.9M250 644 h-9.9M250 582 h-9.9" stroke="#000" stroke-width="2" fill="none"/>
<text x="183.2" y="717.9" font-size="22.43" text-anchor="start" textLength="76.45" lengthAdjust="spacingAndGlyphs" transform="rotate(-90 183.2 717.9)">Counts</text>
<g clip-path="url(#c2)"><path d="M379.0 1154.6V1154.6L380.0 1154.6L381.0 1154.6L382.0 1154.6L383.0 1154.6L384.0 1154.6L385.0 1154.6L386.0 1154.6L387.0 1154.6L388.0 1154.6L389.0 1154.6V832.4L390.0 835.0V1154.6L391.0 1154.6V835.0L392.0 835.0V1154.6L393.0 1154.6V832.4L394.0 835.0V1154.6L395.0 1154.6V835.0L396.0 835.0V1154.6L397.0 1154.6V832.4L398.0 835.0V1131.9L399.0 1131.9V835.0L400.0 835.0V1131.9L401.0 1134.5V832.4L402.0 835.0V1131.9L403.0 1051.3V835.0L404.0 832.4V1051.3L405.0 1053.9V953.2L406.0 955.8V1051.3L407.0 1051.3V953.2L408.0 976.0V1051.3L409.0 1053.9V973.4L410.0 976.0V1051.3L411.0 1051.3V1016.3L412.0 1016.3V1051.3L413.0 1094.2V1013.7L414.0 1016.3V1071.5L415.0 1071.5V1016.3L416.0 1016.3V1071.5L417.0 1074.1V1013.7L418.0 1016.3V1071.5L419.0 1071.5V973.4L420.0 996.1V1071.5L421.0 1154.6V1013.7L422.0 1036.4V1111.7L423.0 1111.7V1036.4L424.0 1036.4V1111.7L425.0 1114.3V1033.8L426.0 1036.4V1111.7L427.0 1051.3V1036.4L428.0 1036.4V1051.3L429.0 1053.9V1033.8L430.0 1036.4V1051.3L431.0 1051.3V996.1L432.0 993.5V1051.3L433.0 1053.9V1033.8L434.0 1036.4V1154.6L435.0 1154.6V1036.4L436.0 1036.4V1154.6L437.0 1154.6V1033.8L438.0 1036.4V1154.6L439.0 1154.6V1036.4L440.0 1036.4V1154.6L441.0 1154.6V1013.7L442.0 1016.3V1154.6L443.0 1154.6V973.4L444.0 996.1V1154.6L445.0 1154.6V993.5L446.0 1074.1L447.0 1074.1L448.0 1074.1L449.0 1074.1L450.0 1074.1L451.0 1154.6V1076.7L452.0 1056.5V1061.4L453.0 1134.5V1053.9L454.0 1056.5V1131.9L455.0 1131.9V996.1L456.0 996.1V1131.9L457.0 1134.5V993.5L458.0 996.1V1154.6L459.0 1071.5V996.1L460.0 996.1V1071.5L461.0 1074.1V993.5L462.0 996.1V1071.5L463.0 1071.5V996.1L464.0 996.1V1071.5L465.0 1074.1V973.4L466.0 1076.7V1154.6L467.0 1154.6V1076.7L468.0 1076.7V1154.6L469.0 1134.5V1074.1L470.0 1076.7V1131.9L471.0 1131.9V1076.7L472.0 1056.5V1131.9L473.0 1134.5V1053.9L474.0 1016.3V1131.9L475.0 1131.9V1016.3L476.0 1016.3V1154.6L477.0 1154.6V1013.7L478.0 1016.3V1154.6L479.0 1154.6V996.1L480.0 996.1V1154.6L481.0 1154.6V993.5L482.0 996.1V1091.6L483.0 1091.6V993.5L484.0 1036.4V1091.6L485.0 1094.2V1033.8L486.0 1036.4V1091.6L487.0 1154.6V1036.4L488.0 1036.4V1154.6L489.0 1154.6V1033.8L490.0 1036.4V1154.6L491.0 1154.6V1016.3L492.0 1016.3V1154.6L493.0 1154.6V1013.7L494.0 1016.3V1091.6L495.0 1091.6V1016.3L496.0 993.5V1091.6L497.0 1094.2V1013.7L498.0 1016.3V1091.6L499.0 1091.6V1056.5L500.0 1056.5V1091.6L501.0 1094.2V1053.9L502.0 1056.5V1154.6L503.0 1154.6V1056.5L504.0 1056.5V1154.6L505.0 1154.6V1013.7L506.0 1056.5V1091.6L507.0 1091.6V1056.5L508.0 1056.5V1091.6L509.0 1094.2V1053.9L510.0 1056.5V1091.6L511.0 1091.6V1056.5L512.0 1056.5V1154.6L513.0 1154.6V1033.8L514.0 1036.4V1154.6L515.0 1154.6V1036.4L516.0 1036.4V1154.6L517.0 1154.6V1013.7L518.0 1016.3V1154.6L519.0 1154.6V1016.3L520.0 1016.3V1154.6L521.0 1074.1V993.5L522.0 1016.3V1071.5L523.0 1071.5V1016.3L524.0 1016.3V1071.5L525.0 1154.6V1013.7L526.0 1016.3V1071.5L527.0 1071.5V1016.3L528.0 993.5V1071.5L529.0 1074.1V1033.8L530.0 1036.4V1154.6L531.0 1154.6V1036.4L532.0 1036.4V1154.6L533.0 1154.6V1033.8L534.0 1036.4V1154.6L535.0 1154.6V1036.4L536.0 996.1V1154.6L537.0 1154.6V993.5L538.0 996.1V1154.6L539.0 1154.6V996.1L540.0 996.1V1021.1L541.0 1023.7V973.4L542.0 976.0V1021.1L543.0 1021.1V953.2L544.0 996.1V1021.1L545.0 1023.7V993.5L546.0 996.1V1021.1L547.0 1021.1V996.1L548.0 996.1V1021.1L549.0 1023.7V993.5L550.0 996.1V1154.6L551.0 1154.6V996.1L552.0 996.1V1154.6L553.0 1154.6V993.5L554.0 996.1V1154.6L555.0 1154.6V996.1L556.0 996.1V1154.6L557.0 1154.6V993.5L558.0 1053.9L559.0 1053.9L560.0 1053.9L561.0 1053.9L562.0 1053.9L563.0 1154.6V1056.5L564.0 1013.7V1091.6L565.0 1094.2V1033.8L566.0 1036.4V1091.6L567.0 1091.6V1036.4L568.0 1036.4V1091.6L569.0 1154.6V1033.8L570.0 1036.4V1154.6L571.0 1091.6V1036.4L572.0 1016.3V1091.6L573.0 1094.2V1013.7L574.0 1016.3V1091.6L575.0 1091.6V1056.5L576.0 1056.5V1091.6L577.0 1154.6V1053.9L578.0 1056.5V1154.6L579.0 1154.6V1056.5L580.0 1056.5V1111.7L581.0 1114.3V1053.9L582.0 1056.5V1111.7L583.0 1111.7V1036.4L584.0 1036.4V1111.7L585.0 1154.6V1033.8L586.0 1016.3V1071.5L587.0 1071.5V1016.3L588.0 1016.3V1071.5L589.0 1074.1V1013.7L590.0 1016.3V1071.5L591.0 1071.5V973.4L592.0 1036.4V1071.5L593.0 1074.1V1033.8L594.0 1036.4V1071.5L595.0 1154.6V1036.4L596.0 1036.4V1154.6L597.0 1154.6V1033.8L598.0 1036.4V1154.6L599.0 1154.6V1036.4L600.0 976.0V1154.6L601.0 1154.6V973.4L602.0 976.0V1154.6L603.0 1154.6V1016.3L604.0 1016.3V1154.6L605.0 1154.6V1013.7L606.0 1016.3V1154.6L607.0 1154.6V1016.3L608.0 1016.3V1071.5L609.0 1074.1V1013.7L610.0 1016.3V1071.5L611.0 1071.5V1016.3L612.0 1016.3V1071.5L613.0 1074.1V1013.7L614.0 1016.3V1154.6L615.0 1091.6V1016.3L616.0 1016.3V1091.6L617.0 1094.2V1013.7L618.0 1016.3V1091.6L619.0 1091.6V1016.3L620.0 1016.3V1154.6L621.0 1154.6V1013.7L622.0 993.5V1154.6L623.0 1154.6V1016.3L624.0 1016.3V1154.6L625.0 1154.6V1013.7L626.0 1016.3V1154.6L627.0 1154.6V1016.3L628.0 1016.3V1131.9L629.0 1134.5V1013.7L630.0 1076.7V1131.9L631.0 1131.9V1076.7L632.0 1076.7V1131.9L633.0 1134.5V1074.1L634.0 1076.7V1154.6L635.0 1154.6V1076.7L636.0 1076.7V1154.6L637.0 1154.6V993.5L638.0 1053.9L639.0 1053.9L640.0 1053.9L641.0 1053.9L642.0 1053.9L643.0 1053.9L644.0 1056.5V1091.6L645.0 1094.2V1053.9L646.0 1056.5V1091.6L647.0 1091.6V973.4L648.0 1036.4V1154.6L649.0 1154.6V1033.8L650.0 1036.4V1154.6L651.0 1154.6V1036.4L652.0 1036.4V1154.6L653.0 1154.6V1033.8L654.0 1036.4V1154.6L655.0 1154.6V1016.3L656.0 1016.3V1154.6L657.0 1154.6V1013.7L658.0 1056.5V1154.6L659.0 1154.6V1056.5L660.0 1056.5V1154.6L661.0 1154.6V1053.9L662.0 1056.5V1154.6L663.0 1154.6V1056.5L664.0 1056.5V1111.7L665.0 1114.3V1053.9L666.0 1056.5V1111.7L667.0 1111.7V1056.5L668.0 1016.3V1111.7L669.0 1114.3V1013.7L670.0 1016.3V1154.6L671.0 1154.6V993.5L672.0 1016.3V1154.6L673.0 1154.6V1013.7L674.0 1016.3V1154.6L675.0 1154.6V1016.3L676.0 1016.3V1154.6L677.0 1154.6V1013.7L678.0 1016.3V1154.6L679.0 1154.6V1016.3L680.0 1016.3V1154.6L681.0 1154.6V1013.7L682.0 1016.3V1154.6L683.0 1154.6V1036.4L684.0 1036.4V1154.6L685.0 1074.1V1033.8L686.0 1036.4V1071.5L687.0 1071.5V1036.4L688.0 1036.4V1071.5L689.0 1074.1V1033.8L690.0 1036.4V1154.6L691.0 1154.6V1036.4L692.0 1036.4V1154.6L693.0 1074.1V1033.8L694.0 996.1V1071.5L695.0 1071.5V996.1L696.0 996.1V1071.5L697.0 1074.1V993.5L698.0 976.0V1071.5L699.0 1071.5V976.0L700.0 976.0V1071.5L701.0 1154.6V973.4L702.0 976.0V1051.3L703.0 1051.3V976.0L704.0 976.0V1051.3L705.0 1053.9V973.4L706.0 976.0V1051.3L707.0 1051.3V976.0L708.0 976.0V1051.3L709.0 1053.9V973.4L710.0 976.0V1051.3L711.0 1094.2V976.0L712.0 976.0V1021.1L713.0 1023.7V973.4L714.0 976.0V1021.1L715.0 1021.1V976.0L716.0 976.0V1021.1L717.0 1023.7V973.4L718.0 996.1V1021.1L719.0 1053.9V996.1L720.0 996.1V1021.1L721.0 1023.7V993.5L722.0 996.1V1021.1L723.0 1021.1V996.1L724.0 996.1V1021.1L725.0 1023.7V993.5L726.0 996.1V1021.1L727.0 1154.6V993.5L728.0 1016.3V1154.6L729.0 1154.6V1013.7L730.0 1016.3V1154.6L731.0 1154.6V1013.7L732.0 1036.4V1154.6L733.0 1154.6V1033.8L734.0 1036.4V1154.6L735.0 1154.6V1036.4L736.0 1036.4V1071.5L737.0 1074.1V1033.8L738.0 1036.4V1071.5L739.0 1071.5V1036.4L740.0 1036.4V1154.6L741.0 1074.1V1033.8L742.0 1036.4V1071.5L743.0 1154.6V996.1L744.0 996.1V1051.3L745.0 1053.9V993.5L746.0 996.1V1051.3L747.0 1051.3V996.1L748.0 996.1V1154.6L749.0 1154.6V993.5L750.0 976.0V1154.6L751.0 1154.6V976.0L752.0 973.4V1154.6L753.0 1154.6V1013.7L754.0 1016.3V1154.6L755.0 1154.6V1016.3L756.0 1016.3V1154.6L757.0 1154.6V1013.7L758.0 1016.3V1154.6L759.0 1154.6V1016.3L760.0 1016.3V1154.6L761.0 1154.6V1013.7L762.0 1016.3V1071.5L763.0 1071.5V1016.3L764.0 993.5V1071.5L765.0 1074.1V1013.7L766.0 1016.3V1071.5L767.0 1154.6V1013.7L768.0 1056.5V1071.5L769.0 1074.1V1053.9L770.0 1056.5V1071.5L771.0 1071.5V1056.5L772.0 1056.5V1071.5L773.0 1074.1V1053.9L774.0 976.0V1071.5L775.0 1071.5V976.0L776.0 976.0V1154.6L777.0 1154.6V973.4L778.0 976.0V1154.6L779.0 1131.9V1016.3L780.0 1016.3V1131.9L781.0 1134.5V1013.7L782.0 1016.3V1131.9L783.0 1131.9V1036.4L784.0 1036.4V1131.9L785.0 1154.6V1033.8L786.0 1036.4V1154.6L787.0 1154.6V1036.4L788.0 1036.4V1154.6L789.0 1154.6V1033.8L790.0 996.1V1154.6L791.0 1154.6V996.1L792.0 996.1V1031.2L793.0 1033.8V993.5L794.0 953.2V1031.2L795.0 1031.2V976.0L796.0 976.0V1031.2L797.0 1033.8V973.4L798.0 976.0V1031.2L799.0 1031.2V996.1L800.0 996.1V1071.5L801.0 1074.1V993.5L802.0 996.1V1071.5L803.0 1071.5V996.1L804.0 996.1V1071.5L805.0 1154.6V993.5L806.0 996.1V1154.6L807.0 1154.6V996.1L808.0 996.1V1051.3L809.0 1053.9V993.5L810.0 996.1V1051.3L811.0 1051.3V973.4L812.0 1016.3V1051.3L813.0 1053.9V1013.7L814.0 1016.3V1154.6L815.0 1154.6V1016.3L816.0 1016.3V1154.6L817.0 1154.6V1013.7L818.0 1016.3V1154.6L819.0 1154.6V1016.3L820.0 996.1V1154.6L821.0 1154.6V993.5L822.0 1016.3V1154.6L823.0 1154.6V1016.3L824.0 1016.3V1154.6L825.0 1154.6V1013.7L826.0 1016.3V1154.6L827.0 1154.6V1013.7L828.0 1056.5V1154.6L829.0 1154.6V1053.9L830.0 1056.5V1154.6L831.0 1154.6V1096.8L832.0 1094.2L833.0 1094.2L834.0 1094.2L835.0 1094.2L836.0 1094.2L837.0 1154.6V993.5L838.0 996.1V1154.6L839.0 1154.6V996.1L840.0 996.1V1154.6L841.0 1053.9V993.5L842.0 996.1V1051.3L843.0 1051.3V976.0L844.0 976.0V1051.3L845.0 1053.9V973.4L846.0 976.0V1051.3L847.0 1114.3V976.0L848.0 955.8V1091.6L849.0 1154.6V953.2L850.0 955.8V1091.6L851.0 1091.6V1016.3L852.0 1016.3V1091.6L853.0 1094.2V1013.7L854.0 1016.3V1091.6L855.0 1091.6V1016.3L856.0 1016.3V1091.6L857.0 1094.2V1013.7L858.0 1016.3V1091.6L859.0 1131.9V1016.3L860.0 1016.3V1131.9L861.0 1134.5V1013.7L862.0 1016.3V1131.9L863.0 1154.6V1016.3L864.0 1016.3V1071.5L865.0 1074.1V1013.7L866.0 953.2V1071.5L867.0 1071.5V996.1L868.0 996.1V1071.5L869.0 1074.1V993.5L870.0 996.1V1114.3L871.0 1091.6V996.1L872.0 996.1V1091.6L873.0 1094.2V953.2L874.0 996.1V1091.6L875.0 1091.6V996.1L876.0 996.1V1091.6L877.0 1154.6V993.5L878.0 996.1V1071.5L879.0 1071.5V996.1L880.0 996.1V1071.5L881.0 1074.1V993.5L882.0 996.1V1071.5L883.0 1071.5V996.1L884.0 993.5V1071.5L885.0 1074.1V1013.7L886.0 1016.3V1154.6L887.0 1154.6V1016.3L888.0 1016.3V1091.6L889.0 1094.2V1013.7L890.0 1016.3V1091.6L891.0 1091.6V1016.3L892.0 1016.3V1091.6L893.0 1094.2V1013.7L894.0 1016.3V1091.6L895.0 1091.6V996.1L896.0 996.1V1091.6L897.0 1094.2V993.5L898.0 1076.7V1154.6L899.0 1154.6V1076.7L900.0 1076.7V1154.6L901.0 1154.6V1074.1L902.0 1076.7V1154.6L903.0 1154.6V1076.7L904.0 1076.7V1154.6L905.0 1154.6V1074.1L906.0 1076.7V1154.6L907.0 1071.5V1036.4L908.0 1036.4V1071.5L909.0 1074.1V1033.8L910.0 973.4V1071.5L911.0 1071.5V1036.4L912.0 1036.4V1071.5L913.0 1074.1V1033.8L914.0 1036.4V1071.5L915.0 1071.5V1036.4L916.0 1036.4V1114.3L917.0 1094.2V1033.8L918.0 1036.4V1091.6L919.0 1091.6V1016.3L920.0 1016.3V1091.6L921.0 1094.2V1013.7L922.0 993.5V1091.6L923.0 1091.6V1016.3L924.0 1016.3V1091.6L925.0 1094.2V1013.7L926.0 1016.3V1154.6L927.0 1154.6V1016.3L928.0 1016.3V1091.6L929.0 1094.2V1013.7L930.0 996.1V1091.6L931.0 1091.6V993.5L932.0 1094.2L933.0 1094.2L934.0 1094.2L935.0 1094.2L936.0 1094.2L937.0 1094.2L938.0 1096.8V1154.6L939.0 1154.6V1096.8L940.0 1096.8V1154.6L941.0 1154.6V993.5L942.0 996.1V1154.6L943.0 1154.6V1016.3L944.0 1016.3V1154.6L945.0 1134.5V1013.7L946.0 1016.3V1131.9L947.0 1091.6V1016.3L948.0 1016.3V1091.6L949.0 1094.2V1013.7L950.0 1016.3V1091.6L951.0 1091.6V976.0L952.0 973.4V1154.6L953.0 1094.2V1013.7L954.0 1016.3V1091.6L955.0 1091.6V1013.7L956.0 1036.4V1091.6L957.0 1094.2V1033.8L958.0 1076.7V1091.6L959.0 1091.6V1076.7L960.0 1076.7V1091.6L961.0 1094.2V1074.1L962.0 1076.7V1154.6L963.0 1154.6V1076.7L964.0 1076.7V1154.6L965.0 1154.6V1074.1L966.0 1076.7V1131.9L967.0 1131.9V1016.3L968.0 1016.3V1131.9L969.0 1134.5V1013.7L970.0 996.1V1131.9L971.0 1131.9V996.1L972.0 993.5V1131.9L973.0 1154.6V1033.8L974.0 1036.4V1154.6L975.0 1154.6V1036.4L976.0 1036.4V1154.6L977.0 1154.6V1033.8L978.0 1116.9V1154.6L979.0 1154.6V1116.9L980.0 1116.9V1154.6L981.0 1154.6V1114.3L982.0 1116.9V1154.6L983.0 1154.6V1116.9L984.0 1116.9V1154.6L985.0 1114.3L986.0 1076.7V1091.6L987.0 1091.6V1076.7L988.0 1033.8V1091.6L989.0 1094.2V1053.9L990.0 1056.5V1091.6L991.0 1091.6V1056.5L992.0 1053.9V1091.6L993.0 1094.2V1074.1L994.0 1076.7V1091.6L995.0 1131.9V1076.7L996.0 1076.7V1131.9L997.0 1134.5V1074.1L998.0 1076.7V1091.6L999.0 1154.6V993.5L1000.0 1036.4V1091.6L1001.0 1094.2V1033.8L1002.0 1036.4V1091.6L1003.0 1091.6V1036.4L1004.0 1033.8V1091.6L1005.0 1094.2V1074.1L1006.0 1076.7V1091.6L1007.0 1091.6V1076.7L1008.0 1076.7V1091.6L1009.0 1094.2V1074.1L1010.0 1076.7V1091.6L1011.0 1091.6V1076.7L1012.0 1076.7V1154.6L1013.0 1094.2V1074.1L1014.0 1076.7V1091.6L1015.0 1094.2V973.4L1016.0 996.1V1051.3L1017.0 1053.9V993.5L1018.0 996.1V1051.3L1019.0 1051.3V996.1L1020.0 996.1V1051.3L1021.0 1053.9V993.5L1022.0 953.2V1051.3L1023.0 1051.3V1016.3L1024.0 1016.3V1051.3L1025.0 1053.9V1013.7L1026.0 1016.3V1051.3L1027.0 1051.3V1016.3L1028.0 1016.3V1051.3L1029.0 1154.6V1013.7L1030.0 1036.4V1154.6L1031.0 1154.6V1036.4L1032.0 1036.4V1154.6L1033.0 1154.6V1033.8L1034.0 1036.4V1154.6L1035.0 1154.6V1036.4L1036.0 1036.4V1154.6L1037.0 1154.6V973.4L1038.0 976.0V1111.7L1039.0 1111.7V1056.5L1040.0 1056.5V1111.7L1041.0 1114.3V1053.9L1042.0 1096.8V1154.6L1043.0 1111.7V1096.8L1044.0 1096.8V1111.7L1045.0 1114.3V1094.2L1046.0 1096.8V1111.7L1047.0 1111.7V1096.8L1048.0 1096.8V1154.6L1049.0 1154.6V1094.2L1050.0 1096.8V1154.6L1051.0 1154.6V1076.7L1052.0 1076.7V1154.6L1053.0 1154.6V1074.1L1054.0 1076.7V1154.6L1055.0 1154.6V1076.7L1056.0 1056.5V1154.6L1057.0 1154.6V1053.9L1058.0 1056.5V1154.6L1059.0 1154.6V1056.5L1060.0 1056.5V1154.6L1061.0 1154.6V1053.9L1062.0 1056.5V1154.6L1063.0 1154.6V1053.9L1064.0 1076.7V1154.6L1065.0 1154.6V1074.1L1066.0 1076.7V1154.6L1067.0 1154.6V1076.7L1068.0 1076.7V1154.6L1069.0 1154.6V1074.1L1070.0 1076.7V1091.6L1071.0 1091.6V1036.4L1072.0 1036.4V1091.6L1073.0 1094.2V1033.8L1074.0 1016.3V1091.6L1075.0 1091.6V1016.3L1076.0 1016.3V1154.6L1077.0 1154.6V1013.7L1078.0 1016.3V1154.6L1079.0 1154.6V1016.3L1080.0 1016.3V1154.6L1081.0 1154.6V1013.7L1082.0 1096.8V1154.6L1083.0 1154.6V1096.8L1084.0 1096.8V1154.6L1085.0 1154.6V1094.2L1086.0 1096.8V1154.6L1087.0 1154.6V1096.8L1088.0 1096.8V1154.6L1089.0 1154.6V1094.2L1090.0 1094.2L1091.0 1091.6V976.0L1092.0 973.4V1091.6L1093.0 1094.2V1033.8L1094.0 1036.4V1091.6L1095.0 1091.6V1036.4L1096.0 1033.8V1091.6L1097.0 1094.2V1074.1L1098.0 1076.7V1091.6L1099.0 1154.6V1076.7L1100.0 1076.7V1154.6L1101.0 1154.6V1074.1L1102.0 1076.7V1154.6L1103.0 1154.6V1076.7L1104.0 1074.1V1154.6L1105.0 1154.6V1094.2L1106.0 1096.8V1154.6L1107.0 1154.6V1096.8L1108.0 1096.8V1154.6L1109.0 1154.6V1094.2L1110.0 1154.6L1111.0 1154.6L1112.0 1154.6L1113.0 1154.6L1114.0 1154.6L1115.0 1154.6L1116.0 1154.6L1117.0 1154.6L1118.0 1154.6L1119.0 1154.6L1120.0 1154.6L1121.0 1154.6L1122.0 1154.6L1123.0 1154.6L1124.0 1154.6L1125.0 1154.6L1126.0 1013.7V1154.6L1127.0 1154.6V1076.7L1128.0 1076.7V1154.6L1129.0 1154.6V1074.1L1130.0 1076.7V1154.6L1131.0 1154.6V1076.7L1132.0 1076.7V1154.6L1133.0 1154.6V1013.7L1134.0 1096.8V1154.6L1135.0 1154.6V1096.8L1136.0 1096.8V1154.6L1137.0 1154.6V1094.2L1138.0 1096.8V1154.6L1139.0 1154.6V1096.8L1140.0 1096.8V1154.6L1141.0 1154.6V1094.2L1142.0 1074.1V1154.6L1143.0 1154.6L1144.0 1154.6L1145.0 1154.6L1146.0 1154.6L1147.0 1154.6L1148.0 1154.6L1149.0 1154.6L1150.0 1096.8V1154.6L1151.0 1154.6V1096.8L1152.0 1096.8V1154.6L1153.0 1154.6V1053.9L1154.0 1056.5V1154.6L1155.0 1154.6V1056.5L1156.0 1056.5V1154.6L1157.0 1154.6V1053.9L1158.0 996.1V1154.6L1159.0 1154.6V993.5L1160.0 1076.7V1091.6L1161.0 1094.2V1074.1L1162.0 1076.7V1091.6L1163.0 1091.6V1076.7L1164.0 1076.7V1154.6L1165.0 1114.3V1074.1L1166.0 1036.4V1111.7L1167.0 1111.7V1036.4L1168.0 1036.4V1111.7L1169.0 1114.3V1033.8L1170.0 1036.4V1111.7L1171.0 1154.6V1013.7L1172.0 1154.6L1173.0 1154.6L1174.0 1154.6L1175.0 1154.6L1176.0 1154.6L1177.0 1154.6L1178.0 953.2V1154.6L1179.0 1154.6V1076.7L1180.0 1076.7V1154.6L1181.0 1154.6V1074.1L1182.0 1076.7V1154.6L1183.0 1091.6V1076.7L1184.0 1076.7V1091.6L1185.0 1094.2V1033.8L1186.0 1076.7V1091.6L1187.0 1091.6V1076.7L1188.0 1076.7V1091.6L1189.0 1154.6V1074.1L1190.0 1076.7V1154.6L1191.0 1154.6V1076.7L1192.0 1076.7V1154.6L1193.0 1154.6V1074.1L1194.0 1056.5V1154.6L1195.0 1154.6V1056.5L1196.0 1056.5V1154.6L1197.0 1154.6V1053.9L1198.0 1036.4V1154.6L1199.0 1154.6V1036.4L1200.0 1033.8V1154.6L1201.0 1154.6V1074.1L1202.0 1076.7V1154.6L1203.0 1154.6V1076.7L1204.0 1076.7V1154.6L1205.0 1074.1L1206.0 1074.1L1207.0 1071.5V1053.9L1208.0 1074.1L1209.0 1074.1L1210.0 1074.1L1211.0 1154.6V1076.7L1212.0 1074.1V1154.6L1213.0 1154.6V1094.2L1214.0 1096.8V1154.6L1215.0 1154.6V1096.8L1216.0 1096.8V1154.6L1217.0 1154.6V1094.2L1218.0 1096.8V1154.6L1219.0 1154.6V1036.4L1220.0 1036.4V1154.6L1221.0 1154.6V1013.7L1222.0 1016.3V1154.6L1223.0 1111.7V1013.7L1224.0 1036.4V1111.7L1225.0 1114.3V1033.8L1226.0 1036.4V1111.7L1227.0 1111.7V1036.4L1228.0 1036.4V1111.7L1229.0 1154.6V1033.8L1230.0 1036.4V1154.6L1231.0 1154.6V1036.4L1232.0 1036.4V1154.6L1233.0 1154.6V993.5L1234.0 1016.3V1154.6L1235.0 1154.6V1016.3L1236.0 1016.3V1154.6L1237.0 1154.6V1013.7L1238.0 1056.5V1154.6L1239.0 1154.6L1240.0 1154.6L1241.0 1154.6L1242.0 1154.6L1243.0 1154.6L1244.0 1154.6L1245.0 1154.6V993.5L1246.0 1096.8V1154.6L1247.0 1154.6V1096.8L1248.0 1096.8V1154.6L1249.0 1154.6V1094.2L1250.0 1096.8V1154.6L1251.0 1154.6V1096.8L1252.0 1096.8V1154.6L1253.0 1154.6V993.5L1254.0 996.1V1154.6L1255.0 1154.6V953.2L1256.0 1036.4V1154.6L1257.0 1154.6V1033.8L1258.0 1036.4V1154.6L1259.0 1154.6V1036.4L1260.0 1036.4V1154.6L1261.0 1154.6V1033.8L1262.0 1036.4V1154.6L1263.0 1154.6V1036.4L1264.0 1036.4V1154.6L1265.0 1154.6V1033.8L1266.0 996.1V1154.6L1267.0 1154.6V996.1L1268.0 996.1V1154.6L1269.0 1154.6V993.5L1270.0 1154.6L1271.0 1154.6L1272.0 1154.6L1273.0 1154.6L1274.0 1154.6L1275.0 1154.6L1276.0 1154.6L1277.0 1154.6L1278.0 1154.6L1279.0 1154.6L1280.0 1056.5V1154.6L1281.0 1154.6V1053.9L1282.0 1056.5V1154.6L1283.0 1154.6V1056.5L1284.0 1013.7V1154.6L1285.0 1154.6V1053.9L1286.0 1056.5V1154.6L1287.0 1154.6V1053.9L1288.0 1154.6L1289.0 1154.6L1290.0 1154.6L1291.0 1154.6L1292.0 1154.6L1293.0 1154.6L1294.0 1154.6L1295.0 1154.6L1296.0 1154.6L1297.0 1154.6L1298.0 1056.5V1154.6L1299.0 1154.6V1056.5L1300.0 1056.5V1154.6L1301.0 1154.6V1013.7L1302.0 1016.3V1154.6L1303.0 1154.6V1016.3L1304.0 1013.7V1154.6L1305.0 1154.6V1114.3L1306.0 1116.9V1154.6L1307.0 1154.6V1116.9L1308.0 1116.9V1154.6L1309.0 1154.6V1114.3L1310.0 1116.9V1154.6L1311.0 1154.6V1116.9L1312.0 1116.9V1154.6L1313.0 1154.6V1013.7L1314.0 1056.5V1154.6L1315.0 1154.6V1056.5L1316.0 1056.5V1154.6L1317.0 1154.6V1053.9L1318.0 1056.5V1154.6L1319.0 1154.6V1013.7L1320.0 1076.7V1154.6L1321.0 1154.6V1074.1L1322.0 1076.7V1154.6L1323.0 1154.6V1076.7L1324.0 1076.7V1154.6L1325.0 1154.6V1074.1L1326.0 1036.4V1154.6L1327.0 1091.6V1036.4L1328.0 1036.4V1091.6L1329.0 1094.2V1033.8L1330.0 953.2V1091.6L1331.0 1091.6V1036.4L1332.0 1036.4V1154.6L1333.0 1154.6V1033.8L1334.0 1036.4V1154.6L1335.0 1154.6V1036.4L1336.0 1036.4V1154.6L1337.0 1154.6V1013.7L1338.0 1137.1V1154.6L1339.0 1154.6V1137.1L1340.0 1137.1V1154.6L1341.0 1154.6V1134.5L1342.0 1137.1V1154.6L1343.0 1154.6V1137.1L1344.0 1137.1V1154.6L1345.0 1154.6V1134.5L1346.0 1076.7V1154.6L1347.0 1154.6V1076.7L1348.0 1076.7V1154.6L1349.0 1154.6V1074.1L1350.0 1076.7V1091.6L1351.0 1091.6V1036.4L1352.0 1036.4V1091.6L1353.0 1094.2V1033.8L1354.0 1036.4V1091.6L1355.0 1091.6V1036.4L1356.0 1013.7V1091.6L1357.0 1114.3L1358.0 1114.3L1359.0 1154.6V1116.9L1360.0 1116.9V1154.6L1361.0 1154.6V1114.3L1362.0 1116.9V1154.6L1363.0 1154.6V1116.9L1364.0 1116.9V1154.6L1365.0 1154.6V1053.9L1366.0 1056.5V1154.6L1367.0 1154.6V1053.9L1368.0 1154.6L1369.0 1154.6L1370.0 1154.6L1371.0 1154.6L1372.0 1154.6L1373.0 1154.6L1374.0 1154.6L1375.0 1154.6L1376.0 1076.7V1154.6L1377.0 1154.6V1074.1L1378.0 1076.7V1154.6L1379.0 1154.6V1076.7L1380.0 1076.7V1154.6L1381.0 1154.6V1033.8L1382.0 1036.4V1071.5L1383.0 1071.5V1036.4L1384.0 993.5V1071.5L1385.0 1074.1V1053.9L1386.0 1056.5V1071.5L1387.0 1071.5V1053.9L1388.0 1074.1L1389.0 1154.6V1074.1L1390.0 1076.7V1154.6L1391.0 1154.6V1076.7L1392.0 1076.7V1154.6L1393.0 1154.6V1074.1L1394.0 1016.3V1154.6L1395.0 1154.6V1013.7L1396.0 1076.7V1154.6L1397.0 1154.6V1074.1L1398.0 1076.7V1154.6L1399.0 1091.6V1076.7L1400.0 1076.7V1091.6L1401.0 1094.2V1074.1L1402.0 1036.4V1091.6L1403.0 1091.6V1036.4L1404.0 1033.8V1091.6L1405.0 1114.3L1406.0 1116.9V1154.6L1407.0 1154.6V1116.9L1408.0 1116.9V1154.6L1409.0 1154.6V1114.3L1410.0 1116.9V1154.6L1411.0 1154.6V1116.9L1412.0 1116.9V1154.6L1413.0 1154.6V1053.9L1414.0 1076.7V1154.6L1415.0 1154.6V1076.7L1416.0 1076.7V1154.6L1417.0 1154.6V1074.1L1418.0 1096.8V1154.6L1419.0 1154.6V1096.8L1420.0 1096.8V1154.6L1421.0 1154.6V1094.2L1422.0 1096.8V1154.6L1423.0 1154.6V1096.8L1424.0 1096.8V1154.6L1425.0 1154.6V1094.2L1426.0 1016.3V1154.6L1427.0 1154.6V1016.3L1428.0 1016.3V1154.6L1429.0 1154.6V1013.7L1430.0 1016.3V1091.6L1431.0 1091.6V1016.3L1432.0 1016.3V1091.6L1433.0 1094.2V1013.7L1434.0 1016.3V1091.6L1435.0 1091.6V1016.3L1436.0 1016.3V1091.6L1437.0 1094.2V973.4L1438.0 1076.7V1154.6L1439.0 1154.6V1076.7L1440.0 1076.7V1154.6L1441.0 1154.6V1074.1L1442.0 1096.8V1154.6L1443.0 1154.6L1444.0 1154.6L1445.0 1154.6L1446.0 1154.6L1447.0 1154.6L1448.0 1154.6L1449.0 1154.6L1450.0 1154.6L1451.0 1154.6L1452.0 1154.6L1453.0 1154.6V993.5L1454.0 1116.9V1154.6L1455.0 1154.6V1116.9L1456.0 1116.9V1154.6L1457.0 1154.6V1114.3L1458.0 1116.9V1154.6L1459.0 1154.6V1116.9L1460.0 1116.9V1154.6L1461.0 1154.6V1013.7L1462.0 1016.3V1154.6L1463.0 1154.6V1013.7L1464.0 1056.5V1154.6L1465.0 1154.6V1053.9L1466.0 1056.5V1154.6L1467.0 1154.6V1056.5L1468.0 1053.9V1154.6L1469.0 1154.6V1114.3L1470.0 1116.9V1154.6L1471.0 1154.6L1472.0 1154.6L1473.0 1154.6L1474.0 1154.6L1475.0 1154.6L1476.0 1154.6L1477.0 1154.6L1478.0 1154.6L1479.0 1154.6V996.1L1480.0 996.1V1154.6L1481.0 1154.6V993.5L1482.0 996.1V1154.6L1483.0 1154.6V996.1L1484.0 996.1V1154.6L1485.0 1154.6V993.5L1486.0 1076.7V1154.6L1487.0 1154.6V1076.7L1488.0 1076.7V1154.6L1489.0 1154.6V1074.1L1490.0 1076.7V1154.6L1491.0 1154.6V1076.7L1492.0 1076.7V1154.6L1493.0 1154.6V1053.9L1494.0 1056.5V1154.6L1495.0 1154.6V1056.5L1496.0 1056.5V1154.6L1497.0 1154.6V1053.9L1498.0 1036.4V1154.6L1499.0 1154.6V1036.4L1500.0 1033.8V1154.6L1501.0 1154.6V1094.2L1502.0 1096.8V1154.6L1503.0 1154.6V1096.8L1504.0 1096.8V1154.6L1505.0 1154.6V1094.2L1506.0 1096.8V1154.6L1507.0 1154.6V1096.8L1508.0 1096.8V1154.6L1509.0 1154.6V1094.2L1510.0 1076.7V1154.6L1511.0 1154.6V1074.1L1512.0 1154.6L1513.0 1154.6L1514.0 1154.6L1515.0 1154.6L1516.0 1154.6L1517.0 1154.6L1518.0 1154.6L1519.0 1154.6L1520.0 1094.2V1154.6L1521.0 1154.6L1522.0 1154.6L1523.0 1154.6L1524.0 1154.6L1525.0 1154.6L1526.0 1154.6L1527.0 1154.6L1528.0 1036.4V1154.6L1529.0 1154.6V1033.8L1530.0 1036.4V1154.6L1531.0 1154.6V1036.4L1532.0 976.0V1154.6L1533.0 1114.3V973.4L1534.0 976.0V1111.7L1535.0 1111.7V976.0L1536.0 976.0V1111.7L1537.0 1114.3V913.0L1538.0 976.0V1154.6L1539.0 1154.6V976.0L1540.0 976.0V1154.6L1541.0 1154.6V973.4L1542.0 976.0V1154.6L1543.0 1154.6V1016.3L1544.0 1016.3V1154.6L1545.0 1154.6V1013.7L1546.0 1036.4V1154.6L1547.0 1154.6V1033.8L1548.0 1154.6L1549.0 1154.6L1550.0 1154.6L1551.0 1154.6L1552.0 1154.6L1553.0 1154.6L1554.0 1154.6L1555.0 1154.6L1556.0 1154.6L1557.0 1154.6V1094.2L1558.0 1116.9V1154.6L1559.0 1154.6V1116.9L1560.0 1116.9V1154.6L1561.0 1154.6V1114.3L1562.0 1116.9V1154.6L1563.0 1154.6V1094.2L1564.0 1154.6L1565.0 1154.6L1566.0 1154.6L1567.0 1154.6L1568.0 1154.6L1569.0 1154.6L1570.0 1154.6L1571.0 1154.6L1572.0 1154.6L1573.0 1154.6L1574.0 1154.6L1575.0 1154.6V1013.7L1576.0 1154.6L1577.0 1154.6L1578.0 1154.6L1579.0 1154.6L1580.0 1154.6L1581.0 1154.6L1582.0 1076.7V1154.6L1583.0 1154.6V976.0L1584.0 976.0V1154.6L1585.0 1154.6V973.4L1586.0 976.0V1154.6L1587.0 1154.6V996.1L1588.0 996.1V1154.6L1589.0 1154.6V993.5L1590.0 996.1V1154.6L1591.0 1154.6V996.1L1592.0 993.5V1154.6L1593.0 1154.6V1053.9L1594.0 1056.5V1154.6L1595.0 1154.6V1056.5L1596.0 1056.5V1154.6L1597.0 1154.6V1053.9L1598.0 1013.7V1154.6L1599.0 1154.6V1036.4L1600.0 1036.4V1154.6L1601.0 1154.6V1033.8L1602.0 1036.4V1154.6L1603.0 1154.6V1096.8L1604.0 1094.2V1154.6L1605.0 1154.6L1606.0 1154.6L1607.0 1154.6L1608.0 1154.6L1609.0 1154.6L1610.0 1154.6L1611.0 1154.6L1612.0 1114.3V1154.6L1613.0 1154.6L1614.0 1154.6L1615.0 1154.6L1616.0 1154.6L1617.0 1154.6L1618.0 1154.6L1619.0 1154.6L1620.0 1154.6L1621.0 1154.6V1053.9L1622.0 1056.5V1154.6L1623.0 1154.6V1096.8L1624.0 1096.8V1154.6L1625.0 1154.6V1094.2L1626.0 1096.8V1154.6L1627.0 1154.6V1096.8L1628.0 976.0V1154.6L1629.0 1154.6V973.4L1630.0 976.0V1154.6L1631.0 1154.6V913.0L1632.0 1056.5V1154.6L1633.0 1154.6V1053.9L1634.0 1056.5V1154.6L1635.0 1154.6V1056.5L1636.0 1056.5V1154.6L1637.0 1154.6V1053.9L1638.0 1056.5V1154.6L1639.0 1154.6V1056.5L1640.0 993.5V1154.6L1641.0 1154.6L1642.0 1154.6L1643.0 1154.6L1644.0 1154.6L1645.0 1154.6L1646.0 1154.6L1647.0 1154.6L1648.0 1154.6L1649.0 1154.6V973.4L1650.0 1116.9V1154.6L1651.0 1154.6V1114.3L1652.0 1154.6L1653.0 1154.6L1654.0 1154.6L1655.0 1154.6L1656.0 1154.6L1657.0 1154.6L1658.0 1114.3V1154.6L1659.0 1154.6L1660.0 1154.6L1661.0 1154.6L1662.0 1154.6L1663.0 1154.6L1664.0 1154.6L1665.0 1154.6L1666.0 1154.6L1667.0 1154.6L1668.0 1154.6L1669.0 1154.6L1670.0 1154.6L1671.0 1154.6" fill="none" stroke="#ff0000" stroke-width="4.17" stroke-linejoin="round" stroke-linecap="butt"/></g>
<rect x="263.5" y="865.1" width="611.87" height="43.6" rx="5" ry="5" fill="#fff" fill-opacity="0.5" stroke="#ccc" stroke-opacity="0.5" stroke-width="2.7"/>
<path d="M271 884.7 H325" stroke="#ff0000" stroke-width="4.17" fill="none"/>
<text x="342.5" y="893.7" font-size="25.6" text-anchor="start" textLength="520.57" lengthAdjust="spacingAndGlyphs">Numbers of Persisting Warm Pixels: CCD5</text>
<rect x="250" y="852" width="1550" height="303" fill="none" stroke="#000" stroke-width="2"/>
<text x="230.3" y="1164.8" font-size="25" text-anchor="end" textLength="38.57" lengthAdjust="spacingAndGlyphs">0.0</text>
<text x="230.3" y="1114.46" font-size="25" text-anchor="end" textLength="38.57" lengthAdjust="spacingAndGlyphs">2.5</text>
<text x="230.3" y="1064.12" font-size="25" text-anchor="end" textLength="38.57" lengthAdjust="spacingAndGlyphs">5.0</text>
<text x="230.3" y="1013.79" font-size="25" text-anchor="end" textLength="38.57" lengthAdjust="spacingAndGlyphs">7.5</text>
<text x="230.3" y="963.45" font-size="25" text-anchor="end" textLength="54" lengthAdjust="spacingAndGlyphs">10.0</text>
<text x="230.3" y="913.11" font-size="25" text-anchor="end" textLength="54" lengthAdjust="spacingAndGlyphs">12.5</text>
<text x="230.3" y="862.77" font-size="25" text-anchor="end" textLength="54" lengthAdjust="spacingAndGlyphs">15.0</text>
<path d="M400 1155 v9.8M647 1155 v9.8M894 1155 v9.8M1140 1155 v9.8M1387 1155 v9.8M1634 1155 v9.8M250 1155 h-9.9M250 1104 h-9.9M250 1054 h-9.9M250 1004 h-9.9M250 953 h-9.9M250 903 h-9.9M250 853 h-9.9" stroke="#000" stroke-width="2" fill="none"/>
<text x="159.6" y="1044.3" font-size="22.43" text-anchor="start" textLength="76.45" lengthAdjust="spacingAndGlyphs" transform="rotate(-90 159.6 1044.3)">Counts</text>
<g clip-path="url(#c3)"><path d="M379.0 1481.0V1481.0L380.0 1481.0L381.0 1481.0L382.0 1169.3V1396.9L383.0 1396.9V1169.3L384.0 1169.3V1396.9L385.0 1399.5V1166.7L386.0 1169.3V1396.9L387.0 1399.5V1169.3L388.0 1169.3V1203.7L389.0 1206.3V1166.7L390.0 1169.3V1203.7L391.0 1203.7V1166.7L392.0 1189.1V1203.7L393.0 1206.3V1186.5L394.0 1189.1V1203.7L395.0 1228.4V1189.1L396.0 1189.1V1203.7L397.0 1206.3V1186.5L398.0 1189.1V1203.7L399.0 1192.1V1189.1L400.0 1189.1V1192.1L401.0 1194.7V1166.7L402.0 1169.3V1192.1L403.0 1192.1V1169.3L404.0 1169.3V1192.1L405.0 1364.6V1166.7L406.0 1332.3V1362.0L407.0 1362.0V1332.3L408.0 1332.3V1362.0L409.0 1364.6V1329.7L410.0 1343.9V1362.0L411.0 1362.0V1341.3L412.0 1355.6V1362.0L413.0 1364.6V1353.0L414.0 1355.6V1376.2L415.0 1362.0V1355.6L416.0 1355.6V1362.0L417.0 1364.6V1353.0L418.0 1364.6L419.0 1364.6L420.0 1364.6L421.0 1364.6L422.0 1367.2V1373.6L423.0 1373.6V1367.2L424.0 1367.2V1373.6L425.0 1376.2V1364.6L426.0 1355.6V1373.6L427.0 1373.6V1355.6L428.0 1355.6V1373.6L429.0 1376.2V1353.0L430.0 1341.3V1373.6L431.0 1373.6V1355.6L432.0 1355.6V1373.6L433.0 1376.2V1353.0L434.0 1355.6V1434.4L435.0 1408.6V1367.2L436.0 1367.2V1408.6L437.0 1411.2V1364.6L438.0 1367.2V1408.6L439.0 1373.6V1367.2L440.0 1367.2V1373.6L441.0 1376.2V1364.6L442.0 1367.2V1373.6L443.0 1373.6V1367.2L444.0 1367.2V1373.6L445.0 1376.2V1364.6L446.0 1367.2V1373.6L447.0 1396.9V1367.2L448.0 1367.2V1396.9L449.0 1399.5V1364.6L450.0 1367.2V1396.9L451.0 1399.5V1353.0L452.0 1367.2V1373.6L453.0 1376.2V1364.6L454.0 1367.2V1373.6L455.0 1373.6V1367.2L456.0 1367.2V1373.6L457.0 1376.2V1364.6L458.0 1367.2V1373.6L459.0 1373.6V1355.6L460.0 1353.0V1373.6L461.0 1376.2V1364.6L462.0 1367.2V1373.6L463.0 1373.6V1367.2L464.0 1367.2V1373.6L465.0 1376.2V1364.6L466.0 1367.2V1373.6L467.0 1376.2L468.0 1378.8V1385.3L469.0 1387.9V1376.2L470.0 1378.8V1385.3L471.0 1385.3V1378.8L472.0 1378.8V1385.3L473.0 1387.9V1376.2L474.0 1367.2V1385.3L475.0 1385.3V1367.2L476.0 1367.2V1399.5L477.0 1387.9V1364.6L478.0 1367.2V1385.3L479.0 1385.3V1341.3L480.0 1367.2V1385.3L481.0 1387.9V1364.6L482.0 1367.2V1399.5L483.0 1385.3V1367.2L484.0 1367.2V1385.3L485.0 1387.9V1364.6L486.0 1367.2V1373.6L487.0 1373.6V1367.2L488.0 1367.2V1373.6L489.0 1376.2V1353.0L490.0 1367.2V1373.6L491.0 1373.6V1367.2L492.0 1367.2V1373.6L493.0 1376.2V1364.6L494.0 1367.2V1385.3L495.0 1385.3V1367.2L496.0 1353.0V1385.3L497.0 1387.9V1364.6L498.0 1367.2V1385.3L499.0 1385.3V1367.2L500.0 1367.2V1385.3L501.0 1387.9V1364.6L502.0 1367.2V1385.3L503.0 1385.3V1367.2L504.0 1367.2V1396.9L505.0 1399.5V1364.6L506.0 1367.2V1396.9L507.0 1396.9V1367.2L508.0 1367.2V1396.9L509.0 1399.5V1364.6L510.0 1367.2V1396.9L511.0 1396.9V1367.2L512.0 1353.0V1399.5L513.0 1393.7V1364.6L514.0 1367.2V1391.1L515.0 1393.7V1367.2L516.0 1367.2V1385.3L517.0 1387.9V1364.6L518.0 1367.2V1385.3L519.0 1385.3V1367.2L520.0 1353.0V1385.3L521.0 1387.9V1364.6L522.0 1367.2V1385.3L523.0 1385.3V1367.2L524.0 1367.2V1385.3L525.0 1387.9V1364.6L526.0 1367.2V1385.3L527.0 1385.3V1367.2L528.0 1355.6V1385.3L529.0 1387.9V1353.0L530.0 1355.6V1385.3L531.0 1385.3V1355.6L532.0 1355.6V1396.9L533.0 1399.5V1353.0L534.0 1355.6V1396.9L535.0 1396.9V1355.6L536.0 1318.0V1399.5L537.0 1387.9V1353.0L538.0 1355.6V1385.3L539.0 1362.0V1355.6L540.0 1355.6V1362.0L541.0 1364.6V1353.0L542.0 1355.6V1362.0L543.0 1362.0V1355.6L544.0 1355.6V1362.0L545.0 1364.6V1353.0L546.0 1329.7V1362.0L547.0 1362.0V1355.6L548.0 1355.6V1362.0L549.0 1364.6V1353.0L550.0 1355.6V1362.0L551.0 1373.6V1355.6L552.0 1355.6V1373.6L553.0 1376.2V1353.0L554.0 1355.6V1373.6L555.0 1373.6V1355.6L556.0 1355.6V1373.6L557.0 1387.9V1341.3L558.0 1355.6V1385.3L559.0 1385.3V1355.6L560.0 1355.6V1385.3L561.0 1422.8V1353.0L562.0 1373.0V1385.3L563.0 1385.3V1373.0L564.0 1370.4V1385.3L565.0 1387.9V1376.2L566.0 1378.8V1385.3L567.0 1385.3V1378.8L568.0 1378.8V1422.8L569.0 1399.5V1376.2L570.0 1378.8V1396.9L571.0 1396.9V1378.8L572.0 1378.8V1396.9L573.0 1399.5V1364.6L574.0 1367.2V1396.9L575.0 1396.9V1367.2L576.0 1367.2V1396.9L577.0 1399.5V1364.6L578.0 1367.2V1396.9L579.0 1408.6V1367.2L580.0 1367.2V1411.2L581.0 1387.9V1364.6L582.0 1367.2V1385.3L583.0 1385.3V1367.2L584.0 1367.2V1385.3L585.0 1387.9V1353.0L586.0 1355.6V1385.3L587.0 1387.9V1355.6L588.0 1355.6V1373.6L589.0 1376.2V1353.0L590.0 1355.6V1373.6L591.0 1373.6V1341.3L592.0 1355.6V1373.6L593.0 1376.2V1353.0L594.0 1355.6V1373.6L595.0 1373.6V1355.6L596.0 1355.6V1373.6L597.0 1376.2V1353.0L598.0 1355.6V1373.6L599.0 1373.6V1355.6L600.0 1355.6V1373.6L601.0 1376.2V1353.0L602.0 1355.6V1373.6L603.0 1373.6V1367.2L604.0 1367.2V1373.6L605.0 1376.2V1364.6L606.0 1367.2V1399.5L607.0 1385.3V1367.2L608.0 1367.2V1387.9L609.0 1376.2V1341.3L610.0 1367.2V1373.6L611.0 1373.6V1367.2L612.0 1367.2V1373.6L613.0 1376.2V1364.6L614.0 1367.2V1373.6L615.0 1373.6V1353.0L616.0 1367.2V1373.6L617.0 1376.2V1364.6L618.0 1367.2V1373.6L619.0 1373.6V1367.2L620.0 1367.2V1481.0L621.0 1387.9V1364.6L622.0 1367.2V1385.3L623.0 1385.3V1367.2L624.0 1353.0V1387.9L625.0 1376.2V1364.6L626.0 1367.2V1373.6L627.0 1373.6V1367.2L628.0 1367.2V1373.6L629.0 1376.2V1364.6L630.0 1367.2V1373.6L631.0 1411.2V1367.2L632.0 1367.2V1373.6L633.0 1376.2V1364.6L634.0 1367.2V1373.6L635.0 1373.6V1367.2L636.0 1367.2V1373.6L637.0 1376.2V1364.6L638.0 1367.2V1373.6L639.0 1373.6V1367.2L640.0 1367.2V1373.6L641.0 1399.5V1364.6L642.0 1367.2V1373.6L643.0 1373.6V1367.2L644.0 1367.2V1373.6L645.0 1376.2V1364.6L646.0 1361.4V1373.6L647.0 1373.6V1361.4L648.0 1361.4V1373.6L649.0 1376.2V1358.8L650.0 1361.4V1373.6L651.0 1387.9V1341.3L652.0 1367.2V1373.6L653.0 1376.2V1364.6L654.0 1367.2V1373.6L655.0 1373.6V1367.2L656.0 1367.2V1373.6L657.0 1376.2V1364.6L658.0 1367.2V1373.6L659.0 1373.6V1367.2L660.0 1367.2V1385.3L661.0 1387.9V1364.6L662.0 1367.2V1385.3L663.0 1385.3V1367.2L664.0 1367.2V1385.3L665.0 1387.9V1353.0L666.0 1355.6V1385.3L667.0 1385.3V1355.6L668.0 1355.6V1385.3L669.0 1387.9V1353.0L670.0 1355.6V1385.3L671.0 1385.3V1355.6L672.0 1329.7V1385.3L673.0 1387.9V1364.6L674.0 1367.2V1385.3L675.0 1385.3V1367.2L676.0 1367.2V1385.3L677.0 1399.5V1364.6L678.0 1367.2V1385.3L679.0 1385.3V1367.2L680.0 1367.2V1385.3L681.0 1387.9V1364.6L682.0 1367.2V1385.3L683.0 1385.3V1367.2L684.0 1367.2V1385.3L685.0 1387.9V1364.6L686.0 1367.2V1385.3L687.0 1385.3V1367.2L688.0 1367.2V1385.3L689.0 1387.9V1364.6L690.0 1355.6V1373.6L691.0 1373.6V1355.6L692.0 1355.6V1373.6L693.0 1376.2V1353.0L694.0 1343.9V1373.6L695.0 1373.6V1343.9L696.0 1343.9V1373.6L697.0 1376.2V1341.3L698.0 1355.6V1373.6L699.0 1373.6V1355.6L700.0 1355.6V1373.6L701.0 1399.5V1353.0L702.0 1355.6V1373.6L703.0 1373.6V1355.6L704.0 1355.6V1373.6L705.0 1376.2V1353.0L706.0 1355.6V1373.6L707.0 1373.6V1355.6L708.0 1355.6V1373.6L709.0 1376.2V1341.3L710.0 1343.9V1373.6L711.0 1373.6V1343.9L712.0 1343.9V1373.6L713.0 1376.2V1341.3L714.0 1343.9V1373.6L715.0 1373.6V1355.6L716.0 1355.6V1373.6L717.0 1376.2V1353.0L718.0 1355.6V1373.6L719.0 1373.6V1353.0L720.0 1367.2V1373.6L721.0 1376.2V1364.6L722.0 1367.2V1373.6L723.0 1373.6V1367.2L724.0 1367.2V1373.6L725.0 1376.2V1364.6L726.0 1367.2V1373.6L727.0 1373.6V1367.2L728.0 1367.2V1385.3L729.0 1387.9V1364.6L730.0 1367.2V1385.3L731.0 1385.3V1367.2L732.0 1367.2V1385.3L733.0 1387.9V1364.6L734.0 1367.2V1385.3L735.0 1385.3V1367.2L736.0 1367.2V1385.3L737.0 1387.9V1364.6L738.0 1367.2V1385.3L739.0 1385.3V1355.6L740.0 1355.6V1385.3L741.0 1387.9V1353.0L742.0 1355.6V1385.3L743.0 1385.3V1355.6L744.0 1353.0V1385.3L745.0 1387.9V1364.6L746.0 1367.2V1385.3L747.0 1385.3V1367.2L748.0 1367.2V1411.2L749.0 1387.9V1364.6L750.0 1367.2V1385.3L751.0 1385.3V1367.2L752.0 1355.6V1385.3L753.0 1387.9V1353.0L754.0 1355.6V1385.3L755.0 1385.3V1355.6L756.0 1355.6V1385.3L757.0 1387.9V1353.0L758.0 1355.6V1385.3L759.0 1385.3V1355.6L760.0 1355.6V1385.3L761.0 1387.9V1353.0L762.0 1355.6V1385.3L763.0 1385.3V1353.0L764.0 1367.2V1385.3L765.0 1387.9V1364.6L766.0 1367.2V1385.3L767.0 1385.3V1367.2L768.0 1367.2V1385.3L769.0 1387.9V1364.6L770.0 1367.2V1385.3L771.0 1385.3V1367.2L772.0 1343.9V1385.3L773.0 1387.9V1341.3L774.0 1343.9V1385.3L775.0 1385.3V1343.9L776.0 1341.3V1399.5L777.0 1376.2V1353.0L778.0 1355.6V1373.6L779.0 1373.6V1355.6L780.0 1353.0V1373.6L781.0 1376.2V1364.6L782.0 1367.2V1373.6L783.0 1373.6V1367.2L784.0 1367.2V1373.6L785.0 1399.5V1364.6L786.0 1367.2V1396.9L787.0 1396.9V1367.2L788.0 1367.2V1396.9L789.0 1411.2V1364.6L790.0 1367.2V1373.6L791.0 1373.6V1367.2L792.0 1367.2V1373.6L793.0 1376.2V1364.6L794.0 1329.7V1373.6L795.0 1373.6V1355.6L796.0 1355.6V1373.6L797.0 1376.2V1353.0L798.0 1355.6V1373.6L799.0 1373.6V1355.6L800.0 1355.6V1373.6L801.0 1376.2V1353.0L802.0 1355.6V1373.6L803.0 1373.6V1355.6L804.0 1341.3V1399.5L805.0 1376.2V1364.6L806.0 1367.2V1373.6L807.0 1373.6V1367.2L808.0 1367.2V1373.6L809.0 1376.2V1364.6L810.0 1367.2V1373.6L811.0 1373.6V1367.2L812.0 1367.2V1373.6L813.0 1376.2V1364.6L814.0 1367.2V1399.5L815.0 1373.6V1367.2L816.0 1367.2V1373.6L817.0 1376.2V1364.6L818.0 1367.2V1373.6L819.0 1373.6V1367.2L820.0 1367.2V1373.6L821.0 1376.2V1364.6L822.0 1367.2V1373.6L823.0 1373.6V1367.2L824.0 1367.2V1399.5L825.0 1376.2V1364.6L826.0 1367.2V1373.6L827.0 1373.6V1367.2L828.0 1367.2V1373.6L829.0 1376.2V1353.0L830.0 1361.4V1373.6L831.0 1373.6V1361.4L832.0 1361.4V1373.6L833.0 1376.2V1358.8L834.0 1361.4V1420.2L835.0 1422.8V1361.4L836.0 1361.4V1385.3L837.0 1387.9V1358.8L838.0 1361.4V1385.3L839.0 1385.3V1361.4L840.0 1355.6V1385.3L841.0 1387.9V1353.0L842.0 1355.6V1385.3L843.0 1385.3V1367.2L844.0 1367.2V1385.3L845.0 1387.9V1364.6L846.0 1367.2V1385.3L847.0 1385.3V1367.2L848.0 1367.2V1385.3L849.0 1387.9V1364.6L850.0 1367.2V1385.3L851.0 1385.3V1329.7L852.0 1355.6V1385.3L853.0 1387.9V1353.0L854.0 1355.6V1385.3L855.0 1385.3V1355.6L856.0 1355.6V1385.3L857.0 1387.9V1353.0L858.0 1367.2V1385.3L859.0 1385.3V1367.2L860.0 1367.2V1385.3L861.0 1387.9V1364.6L862.0 1367.2V1385.3L863.0 1387.9V1367.2L864.0 1364.6L865.0 1364.6L866.0 1343.9V1362.0L867.0 1362.0V1343.9L868.0 1343.9V1362.0L869.0 1364.6V1341.3L870.0 1343.9V1362.0L871.0 1362.0V1341.3L872.0 1355.6V1362.0L873.0 1364.6V1353.0L874.0 1355.6V1362.0L875.0 1362.0V1355.6L876.0 1355.6V1373.6L877.0 1376.2V1353.0L878.0 1355.6V1373.6L879.0 1373.6V1353.0L880.0 1367.2V1373.6L881.0 1376.2V1364.6L882.0 1367.2V1373.6L883.0 1373.6V1367.2L884.0 1367.2V1373.6L885.0 1376.2V1364.6L886.0 1367.2V1373.6L887.0 1385.3V1367.2L888.0 1367.2V1385.3L889.0 1387.9V1364.6L890.0 1367.2V1385.3L891.0 1385.3V1367.2L892.0 1367.2V1385.3L893.0 1387.9V1364.6L894.0 1343.9V1385.3L895.0 1385.3V1341.3L896.0 1367.2V1385.3L897.0 1387.9V1364.6L898.0 1367.2V1385.3L899.0 1385.3V1367.2L900.0 1364.6V1434.4L901.0 1399.5V1376.2L902.0 1378.8V1396.9L903.0 1396.9V1378.8L904.0 1378.8V1396.9L905.0 1399.5V1376.2L906.0 1376.2L907.0 1376.2L908.0 1376.2L909.0 1376.2L910.0 1355.6V1373.6L911.0 1373.6V1355.6L912.0 1355.6V1373.6L913.0 1376.2V1353.0L914.0 1343.9V1373.6L915.0 1373.6V1343.9L916.0 1343.9V1399.5L917.0 1376.2V1341.3L918.0 1343.9V1385.3L919.0 1385.3V1329.7L920.0 1343.9V1385.3L921.0 1387.9V1341.3L922.0 1343.9V1385.3L923.0 1385.3V1355.6L924.0 1355.6V1385.3L925.0 1387.9V1353.0L926.0 1355.6V1385.3L927.0 1385.3V1355.6L928.0 1355.6V1385.3L929.0 1387.9V1353.0L930.0 1355.6V1385.3L931.0 1385.3V1367.2L932.0 1367.2V1385.3L933.0 1387.9V1364.6L934.0 1367.2V1385.3L935.0 1434.4V1367.2L936.0 1367.2V1408.6L937.0 1411.2V1364.6L938.0 1367.2V1408.6L939.0 1408.6V1353.0L940.0 1367.2V1408.6L941.0 1411.2V1364.6L942.0 1367.2V1408.6L943.0 1408.6V1367.2L944.0 1367.2V1422.8L945.0 1376.2V1364.6L946.0 1367.2V1373.6L947.0 1373.6V1367.2L948.0 1367.2V1373.6L949.0 1376.2V1364.6L950.0 1367.2V1373.6L951.0 1373.6V1367.2L952.0 1355.6V1385.3L953.0 1387.9V1353.0L954.0 1355.6V1385.3L955.0 1385.3V1355.6L956.0 1355.6V1385.3L957.0 1387.9V1341.3L958.0 1378.8V1385.3L959.0 1385.3V1378.8L960.0 1378.8V1385.3L961.0 1387.9V1376.2L962.0 1378.8V1408.6L963.0 1411.2V1378.8L964.0 1376.2L965.0 1376.2L966.0 1376.2L967.0 1376.2L968.0 1367.2V1373.6L969.0 1376.2V1364.6L970.0 1353.0V1373.6L971.0 1373.6V1367.2L972.0 1367.2V1373.6L973.0 1376.2V1364.6L974.0 1367.2V1373.6L975.0 1385.3V1367.2L976.0 1367.2V1385.3L977.0 1387.9V1364.6L978.0 1353.0V1385.3L979.0 1385.3V1361.4L980.0 1361.4V1385.3L981.0 1387.9V1358.8L982.0 1361.4V1385.3L983.0 1411.2V1361.4L984.0 1361.4V1396.9L985.0 1399.5V1358.8L986.0 1361.4V1396.9L987.0 1396.9V1361.4L988.0 1355.6V1396.9L989.0 1399.5V1353.0L990.0 1378.8V1396.9L991.0 1396.9V1378.8L992.0 1378.8V1396.9L993.0 1399.5V1376.2L994.0 1378.8V1411.2L995.0 1396.9V1378.8L996.0 1378.8V1396.9L997.0 1399.5V1376.2L998.0 1378.8V1396.9L999.0 1396.9V1367.2L1000.0 1367.2V1396.9L1001.0 1399.5V1364.6L1002.0 1367.2V1396.9L1003.0 1396.9V1364.6L1004.0 1378.8V1396.9L1005.0 1399.5V1376.2L1006.0 1378.8V1396.9L1007.0 1411.2V1378.8L1008.0 1378.8V1391.1L1009.0 1393.7V1376.2L1010.0 1378.8V1391.1L1011.0 1391.1V1378.8L1012.0 1355.6V1391.1L1013.0 1393.7V1353.0L1014.0 1355.6V1373.6L1015.0 1373.6V1355.6L1016.0 1355.6V1373.6L1017.0 1376.2V1353.0L1018.0 1355.6V1373.6L1019.0 1373.6V1355.6L1020.0 1355.6V1373.6L1021.0 1376.2V1353.0L1022.0 1355.6V1373.6L1023.0 1373.6V1355.6L1024.0 1355.6V1399.5L1025.0 1387.9V1353.0L1026.0 1355.6V1385.3L1027.0 1385.3V1355.6L1028.0 1355.6V1385.3L1029.0 1387.9V1353.0L1030.0 1355.6V1385.3L1031.0 1385.3V1355.6L1032.0 1355.6V1385.3L1033.0 1387.9V1353.0L1034.0 1367.2V1373.6L1035.0 1373.6V1367.2L1036.0 1367.2V1373.6L1037.0 1376.2V1364.6L1038.0 1367.2V1373.6L1039.0 1373.6V1367.2L1040.0 1353.0V1373.6L1041.0 1376.2V1364.6L1042.0 1367.2V1373.6L1043.0 1373.6V1367.2L1044.0 1364.6V1434.4L1045.0 1422.8V1387.9L1046.0 1390.5V1420.2L1047.0 1420.2V1390.5L1048.0 1390.5V1420.2L1049.0 1422.8V1387.9L1050.0 1390.5V1420.2L1051.0 1420.2V1390.5L1052.0 1390.5V1420.2L1053.0 1422.8V1387.9L1054.0 1390.5V1420.2L1055.0 1420.2V1390.5L1056.0 1353.0V1420.2L1057.0 1422.8V1364.6L1058.0 1367.2V1420.2L1059.0 1420.2V1367.2L1060.0 1367.2V1420.2L1061.0 1422.8V1364.6L1062.0 1367.2V1408.6L1063.0 1408.6V1367.2L1064.0 1367.2V1408.6L1065.0 1411.2V1364.6L1066.0 1367.2V1408.6L1067.0 1411.2V1367.2L1068.0 1367.2V1396.9L1069.0 1399.5V1364.6L1070.0 1367.2V1396.9L1071.0 1396.9V1367.2L1072.0 1332.3V1396.9L1073.0 1399.5V1329.7L1074.0 1367.2V1396.9L1075.0 1396.9V1367.2L1076.0 1367.2V1396.9L1077.0 1399.5V1364.6L1078.0 1367.2V1396.9L1079.0 1396.9V1367.2L1080.0 1367.2V1396.9L1081.0 1399.5V1364.6L1082.0 1367.2V1396.9L1083.0 1411.2V1353.0L1084.0 1367.2V1385.3L1085.0 1387.9V1364.6L1086.0 1367.2V1385.3L1087.0 1385.3V1367.2L1088.0 1367.2V1385.3L1089.0 1387.9V1364.6L1090.0 1367.2V1385.3L1091.0 1385.3V1355.6L1092.0 1355.6V1385.3L1093.0 1387.9V1353.0L1094.0 1355.6V1385.3L1095.0 1385.3V1353.0L1096.0 1367.2V1385.3L1097.0 1387.9V1364.6L1098.0 1367.2V1385.3L1099.0 1385.3V1367.2L1100.0 1367.2V1408.6L1101.0 1411.2V1364.6L1102.0 1367.2V1422.8L1103.0 1396.9V1367.2L1104.0 1367.2V1396.9L1105.0 1399.5V1364.6L1106.0 1353.0V1396.9L1107.0 1396.9V1367.2L1108.0 1367.2V1396.9L1109.0 1399.5V1364.6L1110.0 1367.2V1422.8L1111.0 1408.6V1378.8L1112.0 1378.8V1408.6L1113.0 1411.2V1376.2L1114.0 1378.8V1408.6L1115.0 1408.6V1378.8L1116.0 1378.8V1408.6L1117.0 1411.2V1376.2L1118.0 1378.8V1408.6L1119.0 1408.6V1378.8L1120.0 1378.8V1408.6L1121.0 1469.4V1353.0L1122.0 1355.6V1466.8L1123.0 1469.4V1355.6L1124.0 1355.6V1362.0L1125.0 1364.6V1353.0L1126.0 1355.6V1362.0L1127.0 1362.0V1355.6L1128.0 1355.6V1362.0L1129.0 1364.6V1353.0L1130.0 1355.6V1362.0L1131.0 1422.8V1355.6L1132.0 1355.6V1362.0L1133.0 1364.6V1353.0L1134.0 1355.6V1362.0L1135.0 1362.0V1353.0L1136.0 1364.6L1137.0 1364.6L1138.0 1364.6L1139.0 1364.6L1140.0 1367.2V1457.7L1141.0 1399.5V1364.6L1142.0 1367.2V1396.9L1143.0 1396.9V1367.2L1144.0 1353.0V1396.9L1145.0 1399.5V1364.6L1146.0 1367.2V1396.9L1147.0 1434.4V1367.2L1148.0 1367.2V1396.9L1149.0 1399.5V1364.6L1150.0 1367.2V1396.9L1151.0 1396.9V1367.2L1152.0 1367.2V1396.9L1153.0 1399.5V1364.6L1154.0 1367.2V1396.9L1155.0 1396.9V1367.2L1156.0 1367.2V1396.9L1157.0 1399.5V1364.6L1158.0 1367.2V1396.9L1159.0 1443.5V1355.6L1160.0 1355.6V1443.5L1161.0 1446.1V1353.0L1162.0 1355.6V1385.3L1163.0 1385.3V1355.6L1164.0 1355.6V1385.3L1165.0 1387.9V1353.0L1166.0 1355.6V1385.3L1167.0 1385.3V1355.6L1168.0 1355.6V1385.3L1169.0 1387.9V1353.0L1170.0 1367.2V1385.3L1171.0 1385.3V1367.2L1172.0 1367.2V1385.3L1173.0 1387.9V1364.6L1174.0 1367.2V1385.3L1175.0 1385.3V1367.2L1176.0 1367.2V1385.3L1177.0 1422.8V1341.3L1178.0 1355.6V1385.3L1179.0 1385.3V1355.6L1180.0 1355.6V1385.3L1181.0 1387.9V1353.0L1182.0 1355.6V1385.3L1183.0 1385.3V1355.6L1184.0 1355.6V1385.3L1185.0 1387.9V1353.0L1186.0 1341.3V1422.8L1187.0 1408.6V1367.2L1188.0 1367.2V1408.6L1189.0 1411.2V1364.6L1190.0 1367.2V1408.6L1191.0 1396.9V1367.2L1192.0 1367.2V1396.9L1193.0 1399.5V1364.6L1194.0 1353.0V1396.9L1195.0 1385.3V1367.2L1196.0 1367.2V1385.3L1197.0 1387.9V1364.6L1198.0 1367.2V1385.3L1199.0 1385.3V1367.2L1200.0 1367.2V1385.3L1201.0 1387.9V1364.6L1202.0 1353.0V1422.8L1203.0 1385.3V1367.2L1204.0 1367.2V1385.3L1205.0 1387.9V1364.6L1206.0 1367.2V1385.3L1207.0 1385.3V1367.2L1208.0 1367.2V1385.3L1209.0 1387.9V1364.6L1210.0 1355.6V1385.3L1211.0 1385.3V1355.6L1212.0 1355.6V1385.3L1213.0 1387.9V1353.0L1214.0 1355.6V1385.3L1215.0 1385.3V1353.0L1216.0 1367.2V1385.3L1217.0 1387.9V1364.6L1218.0 1367.2V1385.3L1219.0 1399.5V1367.2L1220.0 1367.2V1385.3L1221.0 1387.9V1364.6L1222.0 1367.2V1385.3L1223.0 1385.3V1367.2L1224.0 1367.2V1385.3L1225.0 1434.4V1353.0L1226.0 1367.2V1396.9L1227.0 1396.9V1367.2L1228.0 1367.2V1396.9L1229.0 1399.5V1364.6L1230.0 1367.2V1391.1L1231.0 1391.1V1367.2L1232.0 1367.2V1391.1L1233.0 1393.7V1364.6L1234.0 1343.9V1391.1L1235.0 1391.1V1343.9L1236.0 1341.3V1391.1L1237.0 1393.7V1364.6L1238.0 1367.2V1391.1L1239.0 1391.1V1367.2L1240.0 1367.2V1391.1L1241.0 1399.5V1364.6L1242.0 1367.2V1396.9L1243.0 1396.9V1367.2L1244.0 1341.3V1481.0L1245.0 1411.2V1353.0L1246.0 1355.6V1408.6L1247.0 1408.6V1355.6L1248.0 1355.6V1411.2L1249.0 1387.9V1353.0L1250.0 1355.6V1385.3L1251.0 1385.3V1355.6L1252.0 1355.6V1385.3L1253.0 1387.9V1341.3L1254.0 1355.6V1385.3L1255.0 1385.3V1355.6L1256.0 1355.6V1385.3L1257.0 1387.9V1353.0L1258.0 1355.6V1446.1L1259.0 1408.6V1355.6L1260.0 1355.6V1408.6L1261.0 1411.2V1353.0L1262.0 1355.6V1396.9L1263.0 1396.9V1355.6L1264.0 1355.6V1396.9L1265.0 1399.5V1353.0L1266.0 1329.7V1396.9L1267.0 1373.6V1343.9L1268.0 1343.9V1373.6L1269.0 1376.2V1341.3L1270.0 1355.6V1373.6L1271.0 1373.6V1355.6L1272.0 1355.6V1373.6L1273.0 1376.2V1353.0L1274.0 1367.2V1396.9L1275.0 1396.9V1367.2L1276.0 1367.2V1396.9L1277.0 1422.8V1364.6L1278.0 1367.2V1385.3L1279.0 1385.3V1367.2L1280.0 1367.2V1385.3L1281.0 1387.9V1364.6L1282.0 1343.9V1385.3L1283.0 1385.3V1343.9L1284.0 1329.7V1399.5L1285.0 1387.9V1341.3L1286.0 1343.9V1385.3L1287.0 1385.3V1343.9L1288.0 1343.9V1385.3L1289.0 1387.9V1341.3L1290.0 1343.9V1385.3L1291.0 1385.3V1343.9L1292.0 1343.9V1385.3L1293.0 1387.9V1341.3L1294.0 1343.9V1385.3L1295.0 1385.3V1343.9L1296.0 1329.7V1457.7L1297.0 1376.2V1341.3L1298.0 1343.9V1373.6L1299.0 1373.6V1343.9L1300.0 1343.9V1373.6L1301.0 1376.2V1341.3L1302.0 1343.9V1373.6L1303.0 1373.6V1343.9L1304.0 1343.9V1373.6L1305.0 1411.2V1329.7L1306.0 1332.3V1408.6L1307.0 1396.9V1343.9L1308.0 1343.9V1396.9L1309.0 1399.5V1341.3L1310.0 1343.9V1396.9L1311.0 1396.9V1343.9L1312.0 1343.9V1396.9L1313.0 1399.5V1341.3L1314.0 1343.9V1396.9L1315.0 1434.4V1329.7L1316.0 1343.9V1385.3L1317.0 1387.9V1341.3L1318.0 1343.9V1385.3L1319.0 1385.3V1341.3L1320.0 1355.6V1385.3L1321.0 1387.9V1353.0L1322.0 1355.6V1385.3L1323.0 1385.3V1355.6L1324.0 1355.6V1399.5L1325.0 1387.9V1353.0L1326.0 1355.6V1385.3L1327.0 1385.3V1355.6L1328.0 1355.6V1385.3L1329.0 1387.9V1318.0L1330.0 1320.6V1385.3L1331.0 1385.3V1332.3L1332.0 1332.3V1385.3L1333.0 1387.9V1329.7L1334.0 1332.3V1385.3L1335.0 1385.3V1329.7L1336.0 1355.6V1385.3L1337.0 1387.9V1353.0L1338.0 1355.6V1385.3L1339.0 1446.1V1355.6L1340.0 1355.6V1431.8L1341.0 1434.4V1353.0L1342.0 1355.6V1431.8L1343.0 1431.8V1355.6L1344.0 1355.6V1434.4L1345.0 1387.9V1353.0L1346.0 1355.6V1385.3L1347.0 1385.3V1355.6L1348.0 1355.6V1385.3L1349.0 1387.9V1341.3L1350.0 1343.9V1385.3L1351.0 1385.3V1343.9L1352.0 1343.9V1385.3L1353.0 1387.9V1341.3L1354.0 1332.3V1396.9L1355.0 1396.9V1332.3L1356.0 1318.0V1396.9L1357.0 1411.2V1364.6L1358.0 1367.2V1408.6L1359.0 1408.6V1367.2L1360.0 1367.2V1408.6L1361.0 1422.8V1364.6L1362.0 1367.2V1420.2L1363.0 1420.2V1367.2L1364.0 1367.2V1420.2L1365.0 1422.8V1364.6L1366.0 1329.7V1420.2L1367.0 1420.2V1367.2L1368.0 1367.2V1420.2L1369.0 1422.8V1364.6L1370.0 1367.2V1420.2L1371.0 1457.7V1364.6L1372.0 1378.8V1443.5L1373.0 1446.1V1376.2L1374.0 1378.8V1443.5L1375.0 1443.5V1378.8L1376.0 1378.8V1443.5L1377.0 1446.1V1376.2L1378.0 1376.2L1379.0 1376.2L1380.0 1376.2L1381.0 1376.2L1382.0 1343.9V1373.6L1383.0 1373.6V1343.9L1384.0 1343.9V1373.6L1385.0 1376.2V1318.0L1386.0 1367.2V1373.6L1387.0 1373.6V1367.2L1388.0 1367.2V1373.6L1389.0 1376.2V1364.6L1390.0 1367.2V1434.4L1391.0 1385.3V1367.2L1392.0 1367.2V1385.3L1393.0 1387.9V1364.6L1394.0 1367.2V1385.3L1395.0 1385.3V1318.0L1396.0 1343.9V1385.3L1397.0 1387.9V1341.3L1398.0 1343.9V1385.3L1399.0 1422.8V1343.9L1400.0 1343.9V1396.9L1401.0 1399.5V1341.3L1402.0 1332.3V1396.9L1403.0 1396.9V1318.0L1404.0 1343.9V1396.9L1405.0 1399.5V1353.0L1406.0 1355.6V1396.9L1407.0 1420.2V1390.5L1408.0 1390.5V1420.2L1409.0 1422.8V1387.9L1410.0 1390.5V1431.8L1411.0 1434.4V1390.5L1412.0 1390.5V1408.6L1413.0 1411.2V1353.0L1414.0 1355.6V1408.6L1415.0 1408.6V1355.6L1416.0 1343.9V1408.6L1417.0 1411.2V1341.3L1418.0 1378.8V1408.6L1419.0 1481.0V1378.8L1420.0 1378.8V1396.9L1421.0 1399.5V1376.2L1422.0 1378.8V1396.9L1423.0 1350.4V1332.3L1424.0 1332.3V1350.4L1425.0 1353.0V1329.7L1426.0 1332.3V1350.4L1427.0 1350.4V1332.3L1428.0 1332.3V1350.4L1429.0 1353.0V1329.7L1430.0 1332.3V1350.4L1431.0 1350.4V1294.8L1432.0 1320.6V1350.4L1433.0 1353.0V1318.0L1434.0 1320.6V1350.4L1435.0 1350.4V1320.6L1436.0 1320.6V1385.3L1437.0 1387.9V1294.8L1438.0 1320.6V1385.3L1439.0 1385.3V1343.9L1440.0 1341.3V1385.3L1441.0 1387.9V1353.0L1442.0 1355.6V1385.3L1443.0 1420.2V1390.5L1444.0 1390.5V1420.2L1445.0 1481.0V1387.9L1446.0 1390.5V1481.0L1447.0 1396.9V1390.5L1448.0 1390.5V1396.9L1449.0 1399.5V1364.6L1450.0 1355.6V1396.9L1451.0 1396.9V1355.6L1452.0 1355.6V1396.9L1453.0 1399.5V1341.3L1454.0 1343.9V1396.9L1455.0 1396.9V1390.5L1456.0 1390.5V1396.9L1457.0 1457.7V1387.9L1458.0 1390.5V1455.1L1459.0 1481.0V1390.5L1460.0 1390.5V1481.0L1461.0 1422.8V1358.8L1462.0 1361.4V1420.2L1463.0 1420.2V1361.4L1464.0 1332.3V1420.2L1465.0 1422.8V1329.7L1466.0 1332.3V1408.6L1467.0 1408.6V1332.3L1468.0 1294.8V1408.6L1469.0 1411.2V1364.6L1470.0 1367.2V1408.6L1471.0 1420.2V1367.2L1472.0 1367.2V1420.2L1473.0 1422.8V1364.6L1474.0 1367.2V1420.2L1475.0 1420.2V1343.9L1476.0 1343.9V1443.5L1477.0 1481.0V1341.3L1478.0 1343.9V1481.0L1479.0 1481.0V1318.0L1480.0 1332.3V1481.0L1481.0 1481.0V1329.7L1482.0 1332.3V1481.0L1483.0 1481.0V1332.3L1484.0 1332.3V1385.3L1485.0 1387.9V1318.0L1486.0 1320.6V1385.3L1487.0 1385.3V1318.0L1488.0 1343.9V1385.3L1489.0 1387.9V1341.3L1490.0 1343.9V1385.3L1491.0 1385.3V1343.9L1492.0 1343.9V1385.3L1493.0 1387.9V1341.3L1494.0 1318.0V1385.3L1495.0 1446.1V1367.2L1496.0 1367.2V1396.9L1497.0 1399.5V1364.6L1498.0 1367.2V1396.9L1499.0 1396.9V1367.2L1500.0 1320.6V1396.9L1501.0 1399.5V1318.0L1502.0 1343.9V1396.9L1503.0 1408.6V1343.9L1504.0 1343.9V1408.6L1505.0 1411.2V1341.3L1506.0 1367.2V1408.6L1507.0 1408.6V1367.2L1508.0 1367.2V1431.8L1509.0 1434.4V1364.6L1510.0 1367.2V1431.8L1511.0 1431.8V1353.0L1512.0 1378.8V1431.8L1513.0 1446.1V1422.8L1514.0 1425.4V1443.5L1515.0 1443.5V1425.4L1516.0 1425.4V1481.0L1517.0 1481.0V1422.8L1518.0 1425.4V1481.0L1519.0 1481.0V1425.4L1520.0 1425.4V1481.0L1521.0 1481.0V1341.3L1522.0 1343.9V1481.0L1523.0 1481.0V1343.9L1524.0 1318.0V1481.0L1525.0 1481.0V1364.6L1526.0 1367.2V1481.0L1527.0 1481.0V1367.2L1528.0 1367.2V1481.0L1529.0 1481.0V1364.6L1530.0 1367.2V1481.0L1531.0 1350.4V1343.9L1532.0 1343.9V1350.4L1533.0 1353.0V1294.8L1534.0 1297.4V1350.4L1535.0 1350.4V1297.4L1536.0 1297.4V1350.4L1537.0 1353.0V1283.1L1538.0 1285.7V1350.4L1539.0 1422.8V1285.7L1540.0 1262.4V1344.5L1541.0 1347.1V1259.8L1542.0 1285.7V1344.5L1543.0 1344.5V1320.6L1544.0 1318.0V1344.5L1545.0 1347.1V1329.7L1546.0 1332.3V1385.3L1547.0 1385.3V1329.7L1548.0 1367.2V1385.3L1549.0 1387.9V1364.6L1550.0 1378.8V1396.9L1551.0 1466.8V1376.2L1552.0 1390.5V1466.8L1553.0 1469.4V1387.9L1554.0 1390.5V1481.0L1555.0 1443.5V1390.5L1556.0 1390.5V1443.5L1557.0 1446.1V1387.9L1558.0 1390.5V1443.5L1559.0 1443.5V1390.5L1560.0 1390.5V1443.5L1561.0 1481.0V1387.9L1562.0 1390.5V1481.0L1563.0 1481.0V1341.3L1564.0 1390.5V1481.0L1565.0 1481.0V1387.9L1566.0 1390.5V1481.0L1567.0 1481.0V1387.9L1568.0 1402.1V1481.0L1569.0 1481.0V1399.5L1570.0 1402.1V1481.0L1571.0 1481.0V1402.1L1572.0 1402.1V1481.0L1573.0 1481.0V1399.5L1574.0 1402.1V1481.0L1575.0 1481.0V1343.9L1576.0 1343.9V1481.0L1577.0 1481.0V1341.3L1578.0 1343.9V1385.3L1579.0 1385.3V1343.9L1580.0 1343.9V1385.3L1581.0 1387.9V1341.3L1582.0 1239.2V1362.0L1583.0 1362.0V1239.2L1584.0 1236.6V1362.0L1585.0 1364.6V1283.1L1586.0 1285.7V1362.0L1587.0 1362.0V1285.7L1588.0 1283.1V1481.0L1589.0 1411.2V1306.4L1590.0 1309.0V1408.6L1591.0 1408.6V1309.0L1592.0 1306.4V1408.6L1593.0 1411.2V1341.3L1594.0 1343.9V1408.6L1595.0 1408.6V1343.9L1596.0 1343.9V1481.0L1597.0 1399.5V1341.3L1598.0 1343.9V1396.9L1599.0 1396.9V1343.9L1600.0 1343.9V1396.9L1601.0 1399.5V1271.5L1602.0 1236.6V1396.9L1603.0 1396.9V1355.6L1604.0 1355.6V1396.9L1605.0 1399.5V1353.0L1606.0 1355.6V1396.9L1607.0 1431.8V1355.6L1608.0 1355.6V1431.8L1609.0 1434.4V1353.0L1610.0 1355.6V1481.0L1611.0 1481.0V1355.6L1612.0 1355.6V1481.0L1613.0 1481.0V1318.0L1614.0 1320.6V1481.0L1615.0 1481.0V1320.6L1616.0 1320.6V1455.1L1617.0 1457.7V1224.9L1618.0 1227.5V1455.1L1619.0 1457.7V1224.9L1620.0 1343.9V1408.6L1621.0 1411.2V1341.3L1622.0 1343.9V1408.6L1623.0 1411.2V1343.9L1624.0 1343.9V1373.6L1625.0 1376.2V1341.3L1626.0 1343.9V1373.6L1627.0 1373.6V1343.9L1628.0 1250.8V1373.6L1629.0 1376.2V1248.2L1630.0 1250.8V1373.6L1631.0 1373.6V1236.6L1632.0 1297.4V1373.6L1633.0 1376.2V1294.8L1634.0 1297.4V1373.6L1635.0 1387.9V1294.8L1636.0 1332.3V1362.0L1637.0 1364.6V1329.7L1638.0 1332.3V1362.0L1639.0 1362.0V1332.3L1640.0 1332.3V1362.0L1641.0 1364.6V1329.7L1642.0 1332.3V1362.0L1643.0 1434.4V1332.3L1644.0 1320.6V1426.0L1645.0 1428.6V1318.0L1646.0 1320.6V1420.2L1647.0 1420.2V1320.6L1648.0 1320.6V1420.2L1649.0 1422.8V1283.1L1650.0 1367.2V1420.2L1651.0 1420.2V1367.2L1652.0 1367.2V1420.2L1653.0 1422.8V1364.6L1654.0 1367.2V1455.1L1655.0 1455.1V1367.2L1656.0 1367.2V1455.1L1657.0 1457.7V1364.6L1658.0 1355.6V1466.8L1659.0 1466.8V1355.6L1660.0 1355.6V1466.8L1661.0 1469.4V1353.0L1662.0 1355.6V1481.0L1663.0 1481.0V1283.1L1664.0 1320.6V1443.5L1665.0 1446.1V1318.0L1666.0 1320.6V1443.5L1667.0 1443.5V1355.6L1668.0 1355.6V1443.5L1669.0 1446.1V1353.0L1670.0 1355.6V1443.5L1671.0 1481.0" fill="none" stroke="#00ffff" stroke-width="4.17" stroke-linejoin="round" stroke-linecap="butt"/></g>
<rect x="263.5" y="1191.5" width="918.78" height="43.6" rx="5" ry="5" fill="#fff" fill-opacity="0.5" stroke="#ccc" stroke-opacity="0.5" stroke-width="2.7"/>
<path d="M271 1211.1 H325" stroke="#00ffff" stroke-width="4.17" fill="none"/>
<text x="342.5" y="1220.1" font-size="25.6" text-anchor="start" textLength="827.48" lengthAdjust="spacingAndGlyphs">Numbers of Potential Warm Pixels (Real Warm + Flickering): CCD5</text>
<rect x="250" y="1179" width="1550" height="302" fill="none" stroke="#000" stroke-width="2"/>
<text x="230.3" y="1491.2" font-size="25" text-anchor="end" textLength="15.43" lengthAdjust="spacingAndGlyphs">0</text>
<text x="230.3" y="1433" font-size="25" text-anchor="end" textLength="15.43" lengthAdjust="spacingAndGlyphs">5</text>
<text x="230.3" y="1374.8" font-size="25" text-anchor="end" textLength="30.86" lengthAdjust="spacingAndGlyphs">10</text>
<text x="230.3" y="1316.6" font-size="25" text-anchor="end" textLength="30.86" lengthAdjust="spacingAndGlyphs">15</text>
<text x="230.3" y="1258.4" font-size="25" text-anchor="end" textLength="30.86" lengthAdjust="spacingAndGlyphs">20</text>
<text x="230.3" y="1200.2" font-size="25" text-anchor="end" textLength="30.86" lengthAdjust="spacingAndGlyphs">25</text>
<path d="M400 1481 v9.8M647 1481 v9.8M894 1481 v9.8M1140 1481 v9.8M1387 1481 v9.8M1634 1481 v9.8M250 1481 h-9.9M250 1423 h-9.9M250 1365 h-9.9M250 1306 h-9.9M250 1248 h-9.9M250 1190 h-9.9" stroke="#000" stroke-width="2" fill="none"/>
<text x="183.6" y="1370.7" font-size="22.43" text-anchor="start" textLength="76.45" lengthAdjust="spacingAndGlyphs" transform="rotate(-90 183.6 1370.7)">Counts</text>
<text x="399.7" y="1518.5" font-size="25" text-anchor="middle" textLength="61.72" lengthAdjust="spacingAndGlyphs">2000</text>
<text x="646.45" y="1518.5" font-size="25" text-anchor="middle" textLength="61.72" lengthAdjust="spacingAndGlyphs">2005</text>
<text x="893.2" y="1518.5" font-size="25" text-anchor="middle" textLength="61.72" lengthAdjust="spacingAndGlyphs">2010</text>
<text x="1139.95" y="1518.5" font-size="25" text-anchor="middle" textLength="61.72" lengthAdjust="spacingAndGlyphs">2015</text>
<text x="1386.7" y="1518.5" font-size="25" text-anchor="middle" textLength="61.72" lengthAdjust="spacingAndGlyphs">2020</text>
<text x="1633.45" y="1518.5" font-size="25" text-anchor="middle" textLength="61.72" lengthAdjust="spacingAndGlyphs">2025</text>
<text x="1025" y="1554.8" font-size="25.6" text-anchor="middle" textLength="141.57" lengthAdjust="spacingAndGlyphs">Time (Year)</text>
</svg>
</body></html>
